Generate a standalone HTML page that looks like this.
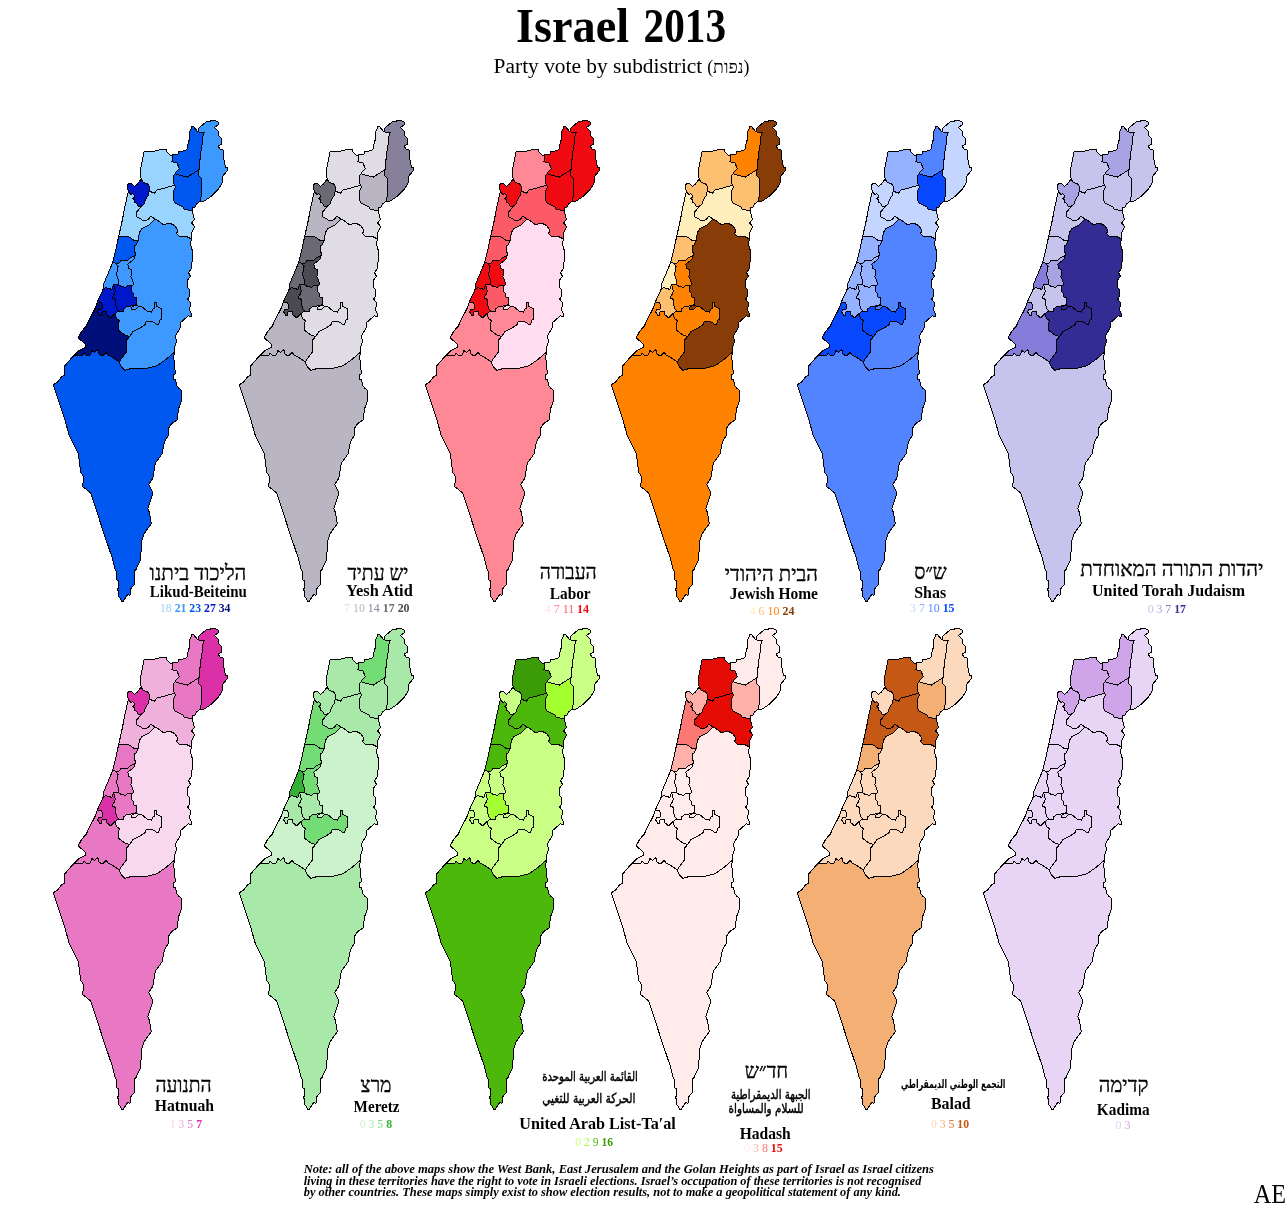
<!DOCTYPE html>
<html><head><meta charset="utf-8"><title>Israel 2013</title>
<style>
html,body{margin:0;padding:0;background:#fff;}
body{width:1288px;height:1205px;position:relative;overflow:hidden;}
svg{position:absolute;left:0;top:0;}
svg .map polygon{stroke:#000;stroke-width:1;stroke-linejoin:bevel;shape-rendering:crispEdges;}
text{font-family:"Liberation Serif","DejaVu Sans",serif;fill:#000;}
.ti{font-size:48px;font-weight:bold;}
.su{font-size:20px;}
.suh{font-size:18px;}
.he{font-size:21px;stroke:#000;stroke-width:0.35px;}
.en{font-size:16px;font-weight:bold;}
.lg{font-size:12px;font-weight:bold;}
.ar{font-family:"DejaVu Sans",sans-serif;font-size:13.7px;stroke:#000;stroke-width:0.45px;}
.arb{font-family:"DejaVu Sans",sans-serif;font-size:12px;font-weight:bold;}
.ft{font-size:12px;font-weight:bold;font-style:italic;}
.ae{font-size:28px;}
</style></head><body>
<svg width="1288" height="1205" viewBox="0 0 1288 1205">
<g class="map" transform="translate(0,0)">
<polygon fill="#3d99ff" points="154.8,219 149.8,224.4 141.5,228.9 139.4,232.7 138.2,240.5 136.5,244.7 134.4,245.9 134.3,251 135.4,253.3 135,255.7 133.9,259.1 131,261.6 127.7,264.1 128.9,268.3 131.4,269.9 131,276.6 132.7,280.7 133.5,284.9 131.8,285.7 131.8,291.5 133.9,294 133.9,297.3 136.4,297.7 136,304.8 138.5,306.4 141.4,306.4 147.2,311 151.7,312.2 152.6,309.3 154.6,308.1 154.2,303.1 156.3,302.3 156.7,306.4 161.3,308.9 161.7,318.9 159.6,320.5 158.8,324.3 156.7,324.3 153,321.8 146.3,321.4 145.1,324.7 140.5,327.6 132.7,331.7 131.4,333.8 129.8,336.3 126.7,340 126.7,351.5 119.2,361.8 121.2,366.5 124.9,370.5 130.7,368.6 147.3,368.2 157.3,365.7 166.4,359 174.1,352.4 174.7,346.6 176.4,342 175.6,335.5 180.2,328 181,322.2 188.5,315.6 191.4,317.2 191.4,314.3 189.7,309.8 190.5,302.7 187.6,299 189.7,296.5 189.7,289.8 187.6,287.3 187.6,279.9 190.5,276.6 188.5,272.4 191,269.1 192.2,260.8 192.4,255 192.1,249.7 190.5,244.7 191.3,238.9 186.3,236.4 179.7,236.8 176.8,233.5 177.6,229.8 174.7,225.6 170.5,223.5 163.1,224.4 158.1,220.6"/>
<polygon fill="#0058f0" points="73.6,355.7 82.8,355.3 84,352.8 86.1,355.3 89.8,355.3 91.9,350.7 94.8,352.4 97.7,349.5 99.4,354.9 103.5,355.3 106,352.4 108.1,354.9 113.9,358.2 119.2,361.8 121.2,366.5 124.9,370.5 130.7,368.6 147.3,368.2 157.3,365.7 166.4,359 174.1,352.4 173.9,358.2 174.7,368.2 175.6,373.2 173.5,375.2 173.5,380.2 175.6,379 176.4,384.8 178.9,388.5 181,389.8 181.8,395.6 181.4,401.4 178.5,408.8 177.8,415 177.6,419.6 171.4,423.8 168.6,428 168.6,434.9 164.5,441.5 162,454 155.4,463.1 152.9,478 148.7,484.7 152,491.3 152,496.3 147.9,508.7 149.6,512.9 151.2,523.7 143.7,534.4 141.3,542.7 140.8,559 135.8,570 134.6,570.4 134.6,584.4 131.3,588.1 130.6,588.9 130.6,594.4 129.6,595.3 127.8,594.4 124.4,599.3 123.6,601.3 121.6,601.3 120.4,598.3 118.6,596.3 118.6,590.4 117.5,590.4 117.4,588.9 118.4,587.9 118.4,580.9 116.6,579.4 116.4,571.8 115.4,570.4 111.9,557 104.8,536.1 90.7,493 82.4,486.3 84,477.2 80.7,472.2 78.2,453.1 69.1,434.9 64.9,420 53.3,384.7 57.4,382.2 61.2,377.3 64.9,374.8 64.5,366.1"/>
<polygon fill="#3d99ff" points="198.1,128.7 206.4,121.6 214.7,120.4 218.4,122.4 218,124.9 214.7,127.4 218.4,131.6 218.8,135.7 221.7,138.6 221.7,144 218.4,146.1 219.7,149 223,149.4 223.8,159 225.5,167.3 227.5,167.7 227.5,170.6 223,175.6 222.6,182.2 218,189.7 211.4,196.3 203.9,201.3 199.8,201.7 201.8,194.6 201.8,178.9 198.1,175.1 199.1,169.5 200.6,153.2 202.7,141.5 203.1,134.1 204.3,132 198.9,132"/>
<polygon fill="#0058f0" points="198.9,132 197.3,131.2 193.1,126.2 191.9,126.6 189.4,132.4 189.8,138.2 188.1,143.2 187.7,148.2 185.2,150.7 179,151.5 178.2,154 172.4,154.8 172.8,159.8 171.5,161.9 176.5,162.3 179.4,168.5 175.3,172.7 175.3,173.9 187.3,177.2 199.1,169.5 200.6,153.2 202.7,141.5 203.1,134.1 204.3,132"/>
<polygon fill="#0058f0" points="175.3,173.9 187.3,177.2 199.1,169.5 198.1,175.1 201.8,178.9 201.8,194.6 199.8,201.7 196.4,203.8 195.2,207.1 192.7,207.9 192.3,211 183.8,209 183,206.9 175.1,203.2 173,198.2 173,191.6 175.1,187.8 175,185.2 173.6,183.9 173.2,175.6"/>
<polygon fill="#99d4ff" points="172.4,154.8 170.3,155.6 167,151.9 166.6,149 162.4,149 154.9,151.1 150,151.1 144.1,151.1 142.9,158.1 140.8,168.1 140.7,172 141.1,179.1 143.2,182.4 147.7,184.1 149,185.8 149.4,190.7 151.5,192 154.4,193.2 157.3,189.5 163.9,188.7 166.4,187.4 175,185.2 173.6,183.9 173.2,175.6 175.3,173.9 175.3,172.7 179.4,168.5 176.5,162.3 171.5,161.9 172.8,159.8"/>
<polygon fill="#0018cc" points="128.2,192 127.4,185.4 129,183.3 131.5,183.3 134.4,186.2 136.9,184.5 141.1,179.1 143.2,182.4 147.7,184.1 149,185.8 149.4,190.7 148.1,195.7 145.2,199.9 144.8,203.2 140.7,206.9 138.5,206.8 137.2,203.9 134,202 134.4,199.5 132.7,198.5 135,197.2 134.4,195.1 132.6,193.4 131.2,195 129,192.5"/>
<polygon fill="#99d4ff" points="149.4,190.7 151.5,192 154.4,193.2 157.3,189.5 163.9,188.7 166.4,187.4 175,185.2 175.1,187.8 173,191.6 173,198.2 175.1,203.2 183,206.9 183.8,209 192.3,211 193.8,217.7 194.6,219 191.7,223.1 194.6,226.4 191.7,233.1 191.3,238.9 186.3,236.4 179.7,236.8 176.8,233.5 177.6,229.8 174.7,225.6 170.5,223.5 163.1,224.4 158.1,220.6 154.8,219 151,216.1 147.7,219.8 143.6,221 140.7,219 136.9,216.9 136.5,212.3 140.7,206.9 144.8,203.2 145.2,199.9 148.1,195.7"/>
<polygon fill="#99d4ff" points="128.2,192 129,192.5 131.2,195 132.6,193.4 134.4,195.1 135,197.2 132.7,198.5 134.4,199.5 134,202 137.2,203.9 138.5,206.8 140.7,206.9 136.5,212.3 136.9,216.9 140.7,219 143.6,221 147.7,219.8 151,216.1 154.8,219 149.8,224.4 141.5,228.9 139.4,232.7 138.2,240.5 134.9,241 129,236.8 121.6,236.8 118.7,236.4 122.4,219.8 124.9,206.5"/>
<polygon fill="#0058f0" points="118.7,236.4 121.6,236.8 129,236.8 134.9,241 138.2,240.5 136.5,244.7 134.4,245.9 134.3,251 135.4,253.3 135,255.7 130.6,257.5 128.1,260 120.6,260.4 119.8,262.9 116.1,263.3 112.7,262.4 115.8,249.7"/>
<polygon fill="#3d99ff" points="112.7,262.4 116.1,263.3 118.1,266.6 116.5,274.9 118.1,279 118.1,284.4 113.6,284.6 111.9,289.4 106.5,287.8 103.6,288.2 104,283.2"/>
<polygon fill="#3d99ff" points="116.1,263.3 119.8,262.9 120.6,260.4 128.1,260 130.6,257.5 135,255.7 133.9,259.1 131,261.6 127.7,264.1 128.9,268.3 131.4,269.9 131,276.6 132.7,280.7 133.5,284.9 131.8,285.7 127.7,285.7 125.6,287.3 120.6,286.1 118.1,284.4 118.1,279 116.5,274.9 118.1,266.6"/>
<polygon fill="#0018cc" points="103.6,288.2 106.5,287.8 111.9,289.4 113.6,284.6 115.2,290.7 114.8,293.2 112.7,296.5 112.7,298.1 115.2,299.4 115.2,303.9 116.9,308.9 118.1,309.8 118,311.5 115.2,313.5 110.7,318 106.9,314.7 106.9,311.8 102.4,311.4 101.1,313.1 102,316 99.9,315.6 97.8,312.2 98.2,309.8 102,309.3 102.8,304.8 101.1,302.7 97.4,301.9"/>
<polygon fill="#0018cc" points="113.6,284.6 118.1,284.4 120.6,286.1 125.6,287.3 127.7,285.7 131.8,285.7 131.8,291.5 133.9,294 133.9,297.3 136.4,297.7 136,304.8 133.1,305.6 126.4,306.8 123.5,308.9 123.1,311.8 118,311.5 118.1,309.8 116.9,308.9 115.2,303.9 115.2,299.4 112.7,298.1 112.7,296.5 114.8,293.2 115.2,290.7"/>
<polygon fill="#3d99ff" points="118,311.5 123.1,311.8 123.5,308.9 126.4,306.8 133.1,305.6 136,304.8 131.4,307.5 131.4,309 135.6,309.5 138.5,306.4 141.4,306.4 147.2,311 151.7,312.2 152.6,309.3 154.6,308.1 154.2,303.1 156.3,302.3 156.7,306.4 161.3,308.9 161.7,318.9 159.6,320.5 158.8,324.3 156.7,324.3 153,321.8 146.3,321.4 145.1,324.7 140.5,327.6 132.7,331.7 131.4,333.8 129.8,336.3 125.6,335.5 119,330.5 118.5,324.7 119.4,320.5 116.5,318.9 115.2,313.5"/>
<polygon fill="#000f7a" points="97.4,301.9 101.1,302.7 102.8,304.8 102,309.3 98.2,309.8 97.8,312.2 99.9,315.6 102,316 101.1,313.1 102.4,311.4 106.9,311.8 106.9,314.7 110.7,318 115.2,313.5 116.5,318.9 119.4,320.5 118.5,324.7 119,330.5 125.6,335.5 129.8,336.3 126.7,340 126.7,351.5 119.2,361.8 113.9,358.2 108.1,354.9 106,352.4 103.5,355.3 99.4,354.9 97.7,349.5 94.8,352.4 91.9,350.7 89.8,355.3 86.1,355.3 84,352.8 82.8,355.3 73.6,355.7 79.4,350.3 85.7,347.4 86.1,344.9 78.2,337.8 81.5,331.6 86.5,325.8 89,320 95.7,307.3"/>
<polygon fill="#3d99ff" points="136,304.8 131.4,307.5 131.4,309 135.6,309.5 138.5,306.4"/>
</g>
<g class="map" transform="translate(186,0)">
<polygon fill="#dfdde3" points="154.8,219 149.8,224.4 141.5,228.9 139.4,232.7 138.2,240.5 136.5,244.7 134.4,245.9 134.3,251 135.4,253.3 135,255.7 133.9,259.1 131,261.6 127.7,264.1 128.9,268.3 131.4,269.9 131,276.6 132.7,280.7 133.5,284.9 131.8,285.7 131.8,291.5 133.9,294 133.9,297.3 136.4,297.7 136,304.8 138.5,306.4 141.4,306.4 147.2,311 151.7,312.2 152.6,309.3 154.6,308.1 154.2,303.1 156.3,302.3 156.7,306.4 161.3,308.9 161.7,318.9 159.6,320.5 158.8,324.3 156.7,324.3 153,321.8 146.3,321.4 145.1,324.7 140.5,327.6 132.7,331.7 131.4,333.8 129.8,336.3 126.7,340 126.7,351.5 119.2,361.8 121.2,366.5 124.9,370.5 130.7,368.6 147.3,368.2 157.3,365.7 166.4,359 174.1,352.4 174.7,346.6 176.4,342 175.6,335.5 180.2,328 181,322.2 188.5,315.6 191.4,317.2 191.4,314.3 189.7,309.8 190.5,302.7 187.6,299 189.7,296.5 189.7,289.8 187.6,287.3 187.6,279.9 190.5,276.6 188.5,272.4 191,269.1 192.2,260.8 192.4,255 192.1,249.7 190.5,244.7 191.3,238.9 186.3,236.4 179.7,236.8 176.8,233.5 177.6,229.8 174.7,225.6 170.5,223.5 163.1,224.4 158.1,220.6"/>
<polygon fill="#b9b5c2" points="73.6,355.7 82.8,355.3 84,352.8 86.1,355.3 89.8,355.3 91.9,350.7 94.8,352.4 97.7,349.5 99.4,354.9 103.5,355.3 106,352.4 108.1,354.9 113.9,358.2 119.2,361.8 121.2,366.5 124.9,370.5 130.7,368.6 147.3,368.2 157.3,365.7 166.4,359 174.1,352.4 173.9,358.2 174.7,368.2 175.6,373.2 173.5,375.2 173.5,380.2 175.6,379 176.4,384.8 178.9,388.5 181,389.8 181.8,395.6 181.4,401.4 178.5,408.8 177.8,415 177.6,419.6 171.4,423.8 168.6,428 168.6,434.9 164.5,441.5 162,454 155.4,463.1 152.9,478 148.7,484.7 152,491.3 152,496.3 147.9,508.7 149.6,512.9 151.2,523.7 143.7,534.4 141.3,542.7 140.8,559 135.8,570 134.6,570.4 134.6,584.4 131.3,588.1 130.6,588.9 130.6,594.4 129.6,595.3 127.8,594.4 124.4,599.3 123.6,601.3 121.6,601.3 120.4,598.3 118.6,596.3 118.6,590.4 117.5,590.4 117.4,588.9 118.4,587.9 118.4,580.9 116.6,579.4 116.4,571.8 115.4,570.4 111.9,557 104.8,536.1 90.7,493 82.4,486.3 84,477.2 80.7,472.2 78.2,453.1 69.1,434.9 64.9,420 53.3,384.7 57.4,382.2 61.2,377.3 64.9,374.8 64.5,366.1"/>
<polygon fill="#87809a" points="198.1,128.7 206.4,121.6 214.7,120.4 218.4,122.4 218,124.9 214.7,127.4 218.4,131.6 218.8,135.7 221.7,138.6 221.7,144 218.4,146.1 219.7,149 223,149.4 223.8,159 225.5,167.3 227.5,167.7 227.5,170.6 223,175.6 222.6,182.2 218,189.7 211.4,196.3 203.9,201.3 199.8,201.7 201.8,194.6 201.8,178.9 198.1,175.1 199.1,169.5 200.6,153.2 202.7,141.5 203.1,134.1 204.3,132 198.9,132"/>
<polygon fill="#dfdde3" points="198.9,132 197.3,131.2 193.1,126.2 191.9,126.6 189.4,132.4 189.8,138.2 188.1,143.2 187.7,148.2 185.2,150.7 179,151.5 178.2,154 172.4,154.8 172.8,159.8 171.5,161.9 176.5,162.3 179.4,168.5 175.3,172.7 175.3,173.9 187.3,177.2 199.1,169.5 200.6,153.2 202.7,141.5 203.1,134.1 204.3,132"/>
<polygon fill="#b9b5c2" points="175.3,173.9 187.3,177.2 199.1,169.5 198.1,175.1 201.8,178.9 201.8,194.6 199.8,201.7 196.4,203.8 195.2,207.1 192.7,207.9 192.3,211 183.8,209 183,206.9 175.1,203.2 173,198.2 173,191.6 175.1,187.8 175,185.2 173.6,183.9 173.2,175.6"/>
<polygon fill="#dfdde3" points="172.4,154.8 170.3,155.6 167,151.9 166.6,149 162.4,149 154.9,151.1 150,151.1 144.1,151.1 142.9,158.1 140.8,168.1 140.7,172 141.1,179.1 143.2,182.4 147.7,184.1 149,185.8 149.4,190.7 151.5,192 154.4,193.2 157.3,189.5 163.9,188.7 166.4,187.4 175,185.2 173.6,183.9 173.2,175.6 175.3,173.9 175.3,172.7 179.4,168.5 176.5,162.3 171.5,161.9 172.8,159.8"/>
<polygon fill="#6b6a74" points="128.2,192 127.4,185.4 129,183.3 131.5,183.3 134.4,186.2 136.9,184.5 141.1,179.1 143.2,182.4 147.7,184.1 149,185.8 149.4,190.7 148.1,195.7 145.2,199.9 144.8,203.2 140.7,206.9 138.5,206.8 137.2,203.9 134,202 134.4,199.5 132.7,198.5 135,197.2 134.4,195.1 132.6,193.4 131.2,195 129,192.5"/>
<polygon fill="#dfdde3" points="149.4,190.7 151.5,192 154.4,193.2 157.3,189.5 163.9,188.7 166.4,187.4 175,185.2 175.1,187.8 173,191.6 173,198.2 175.1,203.2 183,206.9 183.8,209 192.3,211 193.8,217.7 194.6,219 191.7,223.1 194.6,226.4 191.7,233.1 191.3,238.9 186.3,236.4 179.7,236.8 176.8,233.5 177.6,229.8 174.7,225.6 170.5,223.5 163.1,224.4 158.1,220.6 154.8,219 151,216.1 147.7,219.8 143.6,221 140.7,219 136.9,216.9 136.5,212.3 140.7,206.9 144.8,203.2 145.2,199.9 148.1,195.7"/>
<polygon fill="#b9b5c2" points="128.2,192 129,192.5 131.2,195 132.6,193.4 134.4,195.1 135,197.2 132.7,198.5 134.4,199.5 134,202 137.2,203.9 138.5,206.8 140.7,206.9 136.5,212.3 136.9,216.9 140.7,219 143.6,221 147.7,219.8 151,216.1 154.8,219 149.8,224.4 141.5,228.9 139.4,232.7 138.2,240.5 134.9,241 129,236.8 121.6,236.8 118.7,236.4 122.4,219.8 124.9,206.5"/>
<polygon fill="#6b6a74" points="118.7,236.4 121.6,236.8 129,236.8 134.9,241 138.2,240.5 136.5,244.7 134.4,245.9 134.3,251 135.4,253.3 135,255.7 130.6,257.5 128.1,260 120.6,260.4 119.8,262.9 116.1,263.3 112.7,262.4 115.8,249.7"/>
<polygon fill="#6b6a74" points="112.7,262.4 116.1,263.3 118.1,266.6 116.5,274.9 118.1,279 118.1,284.4 113.6,284.6 111.9,289.4 106.5,287.8 103.6,288.2 104,283.2"/>
<polygon fill="#4b4a52" points="116.1,263.3 119.8,262.9 120.6,260.4 128.1,260 130.6,257.5 135,255.7 133.9,259.1 131,261.6 127.7,264.1 128.9,268.3 131.4,269.9 131,276.6 132.7,280.7 133.5,284.9 131.8,285.7 127.7,285.7 125.6,287.3 120.6,286.1 118.1,284.4 118.1,279 116.5,274.9 118.1,266.6"/>
<polygon fill="#4b4a52" points="103.6,288.2 106.5,287.8 111.9,289.4 113.6,284.6 115.2,290.7 114.8,293.2 112.7,296.5 112.7,298.1 115.2,299.4 115.2,303.9 116.9,308.9 118.1,309.8 118,311.5 115.2,313.5 110.7,318 106.9,314.7 106.9,311.8 102.4,311.4 101.1,313.1 102,316 99.9,315.6 97.8,312.2 98.2,309.8 102,309.3 102.8,304.8 101.1,302.7 97.4,301.9"/>
<polygon fill="#6b6a74" points="113.6,284.6 118.1,284.4 120.6,286.1 125.6,287.3 127.7,285.7 131.8,285.7 131.8,291.5 133.9,294 133.9,297.3 136.4,297.7 136,304.8 133.1,305.6 126.4,306.8 123.5,308.9 123.1,311.8 118,311.5 118.1,309.8 116.9,308.9 115.2,303.9 115.2,299.4 112.7,298.1 112.7,296.5 114.8,293.2 115.2,290.7"/>
<polygon fill="#dfdde3" points="118,311.5 123.1,311.8 123.5,308.9 126.4,306.8 133.1,305.6 136,304.8 131.4,307.5 131.4,309 135.6,309.5 138.5,306.4 141.4,306.4 147.2,311 151.7,312.2 152.6,309.3 154.6,308.1 154.2,303.1 156.3,302.3 156.7,306.4 161.3,308.9 161.7,318.9 159.6,320.5 158.8,324.3 156.7,324.3 153,321.8 146.3,321.4 145.1,324.7 140.5,327.6 132.7,331.7 131.4,333.8 129.8,336.3 125.6,335.5 119,330.5 118.5,324.7 119.4,320.5 116.5,318.9 115.2,313.5"/>
<polygon fill="#b9b5c2" points="97.4,301.9 101.1,302.7 102.8,304.8 102,309.3 98.2,309.8 97.8,312.2 99.9,315.6 102,316 101.1,313.1 102.4,311.4 106.9,311.8 106.9,314.7 110.7,318 115.2,313.5 116.5,318.9 119.4,320.5 118.5,324.7 119,330.5 125.6,335.5 129.8,336.3 126.7,340 126.7,351.5 119.2,361.8 113.9,358.2 108.1,354.9 106,352.4 103.5,355.3 99.4,354.9 97.7,349.5 94.8,352.4 91.9,350.7 89.8,355.3 86.1,355.3 84,352.8 82.8,355.3 73.6,355.7 79.4,350.3 85.7,347.4 86.1,344.9 78.2,337.8 81.5,331.6 86.5,325.8 89,320 95.7,307.3"/>
<polygon fill="#dfdde3" points="136,304.8 131.4,307.5 131.4,309 135.6,309.5 138.5,306.4"/>
</g>
<g class="map" transform="translate(372,0)">
<polygon fill="#ffdcf0" points="154.8,219 149.8,224.4 141.5,228.9 139.4,232.7 138.2,240.5 136.5,244.7 134.4,245.9 134.3,251 135.4,253.3 135,255.7 133.9,259.1 131,261.6 127.7,264.1 128.9,268.3 131.4,269.9 131,276.6 132.7,280.7 133.5,284.9 131.8,285.7 131.8,291.5 133.9,294 133.9,297.3 136.4,297.7 136,304.8 138.5,306.4 141.4,306.4 147.2,311 151.7,312.2 152.6,309.3 154.6,308.1 154.2,303.1 156.3,302.3 156.7,306.4 161.3,308.9 161.7,318.9 159.6,320.5 158.8,324.3 156.7,324.3 153,321.8 146.3,321.4 145.1,324.7 140.5,327.6 132.7,331.7 131.4,333.8 129.8,336.3 126.7,340 126.7,351.5 119.2,361.8 121.2,366.5 124.9,370.5 130.7,368.6 147.3,368.2 157.3,365.7 166.4,359 174.1,352.4 174.7,346.6 176.4,342 175.6,335.5 180.2,328 181,322.2 188.5,315.6 191.4,317.2 191.4,314.3 189.7,309.8 190.5,302.7 187.6,299 189.7,296.5 189.7,289.8 187.6,287.3 187.6,279.9 190.5,276.6 188.5,272.4 191,269.1 192.2,260.8 192.4,255 192.1,249.7 190.5,244.7 191.3,238.9 186.3,236.4 179.7,236.8 176.8,233.5 177.6,229.8 174.7,225.6 170.5,223.5 163.1,224.4 158.1,220.6"/>
<polygon fill="#ff8896" points="73.6,355.7 82.8,355.3 84,352.8 86.1,355.3 89.8,355.3 91.9,350.7 94.8,352.4 97.7,349.5 99.4,354.9 103.5,355.3 106,352.4 108.1,354.9 113.9,358.2 119.2,361.8 121.2,366.5 124.9,370.5 130.7,368.6 147.3,368.2 157.3,365.7 166.4,359 174.1,352.4 173.9,358.2 174.7,368.2 175.6,373.2 173.5,375.2 173.5,380.2 175.6,379 176.4,384.8 178.9,388.5 181,389.8 181.8,395.6 181.4,401.4 178.5,408.8 177.8,415 177.6,419.6 171.4,423.8 168.6,428 168.6,434.9 164.5,441.5 162,454 155.4,463.1 152.9,478 148.7,484.7 152,491.3 152,496.3 147.9,508.7 149.6,512.9 151.2,523.7 143.7,534.4 141.3,542.7 140.8,559 135.8,570 134.6,570.4 134.6,584.4 131.3,588.1 130.6,588.9 130.6,594.4 129.6,595.3 127.8,594.4 124.4,599.3 123.6,601.3 121.6,601.3 120.4,598.3 118.6,596.3 118.6,590.4 117.5,590.4 117.4,588.9 118.4,587.9 118.4,580.9 116.6,579.4 116.4,571.8 115.4,570.4 111.9,557 104.8,536.1 90.7,493 82.4,486.3 84,477.2 80.7,472.2 78.2,453.1 69.1,434.9 64.9,420 53.3,384.7 57.4,382.2 61.2,377.3 64.9,374.8 64.5,366.1"/>
<polygon fill="#f00a12" points="198.1,128.7 206.4,121.6 214.7,120.4 218.4,122.4 218,124.9 214.7,127.4 218.4,131.6 218.8,135.7 221.7,138.6 221.7,144 218.4,146.1 219.7,149 223,149.4 223.8,159 225.5,167.3 227.5,167.7 227.5,170.6 223,175.6 222.6,182.2 218,189.7 211.4,196.3 203.9,201.3 199.8,201.7 201.8,194.6 201.8,178.9 198.1,175.1 199.1,169.5 200.6,153.2 202.7,141.5 203.1,134.1 204.3,132 198.9,132"/>
<polygon fill="#f00a12" points="198.9,132 197.3,131.2 193.1,126.2 191.9,126.6 189.4,132.4 189.8,138.2 188.1,143.2 187.7,148.2 185.2,150.7 179,151.5 178.2,154 172.4,154.8 172.8,159.8 171.5,161.9 176.5,162.3 179.4,168.5 175.3,172.7 175.3,173.9 187.3,177.2 199.1,169.5 200.6,153.2 202.7,141.5 203.1,134.1 204.3,132"/>
<polygon fill="#f00a12" points="175.3,173.9 187.3,177.2 199.1,169.5 198.1,175.1 201.8,178.9 201.8,194.6 199.8,201.7 196.4,203.8 195.2,207.1 192.7,207.9 192.3,211 183.8,209 183,206.9 175.1,203.2 173,198.2 173,191.6 175.1,187.8 175,185.2 173.6,183.9 173.2,175.6"/>
<polygon fill="#ff8896" points="172.4,154.8 170.3,155.6 167,151.9 166.6,149 162.4,149 154.9,151.1 150,151.1 144.1,151.1 142.9,158.1 140.8,168.1 140.7,172 141.1,179.1 143.2,182.4 147.7,184.1 149,185.8 149.4,190.7 151.5,192 154.4,193.2 157.3,189.5 163.9,188.7 166.4,187.4 175,185.2 173.6,183.9 173.2,175.6 175.3,173.9 175.3,172.7 179.4,168.5 176.5,162.3 171.5,161.9 172.8,159.8"/>
<polygon fill="#f00a12" points="128.2,192 127.4,185.4 129,183.3 131.5,183.3 134.4,186.2 136.9,184.5 141.1,179.1 143.2,182.4 147.7,184.1 149,185.8 149.4,190.7 148.1,195.7 145.2,199.9 144.8,203.2 140.7,206.9 138.5,206.8 137.2,203.9 134,202 134.4,199.5 132.7,198.5 135,197.2 134.4,195.1 132.6,193.4 131.2,195 129,192.5"/>
<polygon fill="#fc5a66" points="149.4,190.7 151.5,192 154.4,193.2 157.3,189.5 163.9,188.7 166.4,187.4 175,185.2 175.1,187.8 173,191.6 173,198.2 175.1,203.2 183,206.9 183.8,209 192.3,211 193.8,217.7 194.6,219 191.7,223.1 194.6,226.4 191.7,233.1 191.3,238.9 186.3,236.4 179.7,236.8 176.8,233.5 177.6,229.8 174.7,225.6 170.5,223.5 163.1,224.4 158.1,220.6 154.8,219 151,216.1 147.7,219.8 143.6,221 140.7,219 136.9,216.9 136.5,212.3 140.7,206.9 144.8,203.2 145.2,199.9 148.1,195.7"/>
<polygon fill="#fc5a66" points="128.2,192 129,192.5 131.2,195 132.6,193.4 134.4,195.1 135,197.2 132.7,198.5 134.4,199.5 134,202 137.2,203.9 138.5,206.8 140.7,206.9 136.5,212.3 136.9,216.9 140.7,219 143.6,221 147.7,219.8 151,216.1 154.8,219 149.8,224.4 141.5,228.9 139.4,232.7 138.2,240.5 134.9,241 129,236.8 121.6,236.8 118.7,236.4 122.4,219.8 124.9,206.5"/>
<polygon fill="#fc5a66" points="118.7,236.4 121.6,236.8 129,236.8 134.9,241 138.2,240.5 136.5,244.7 134.4,245.9 134.3,251 135.4,253.3 135,255.7 130.6,257.5 128.1,260 120.6,260.4 119.8,262.9 116.1,263.3 112.7,262.4 115.8,249.7"/>
<polygon fill="#f00a12" points="112.7,262.4 116.1,263.3 118.1,266.6 116.5,274.9 118.1,279 118.1,284.4 113.6,284.6 111.9,289.4 106.5,287.8 103.6,288.2 104,283.2"/>
<polygon fill="#f00a12" points="116.1,263.3 119.8,262.9 120.6,260.4 128.1,260 130.6,257.5 135,255.7 133.9,259.1 131,261.6 127.7,264.1 128.9,268.3 131.4,269.9 131,276.6 132.7,280.7 133.5,284.9 131.8,285.7 127.7,285.7 125.6,287.3 120.6,286.1 118.1,284.4 118.1,279 116.5,274.9 118.1,266.6"/>
<polygon fill="#f00a12" points="103.6,288.2 106.5,287.8 111.9,289.4 113.6,284.6 115.2,290.7 114.8,293.2 112.7,296.5 112.7,298.1 115.2,299.4 115.2,303.9 116.9,308.9 118.1,309.8 118,311.5 115.2,313.5 110.7,318 106.9,314.7 106.9,311.8 102.4,311.4 101.1,313.1 102,316 99.9,315.6 97.8,312.2 98.2,309.8 102,309.3 102.8,304.8 101.1,302.7 97.4,301.9"/>
<polygon fill="#fc5a66" points="113.6,284.6 118.1,284.4 120.6,286.1 125.6,287.3 127.7,285.7 131.8,285.7 131.8,291.5 133.9,294 133.9,297.3 136.4,297.7 136,304.8 133.1,305.6 126.4,306.8 123.5,308.9 123.1,311.8 118,311.5 118.1,309.8 116.9,308.9 115.2,303.9 115.2,299.4 112.7,298.1 112.7,296.5 114.8,293.2 115.2,290.7"/>
<polygon fill="#ff8896" points="118,311.5 123.1,311.8 123.5,308.9 126.4,306.8 133.1,305.6 136,304.8 131.4,307.5 131.4,309 135.6,309.5 138.5,306.4 141.4,306.4 147.2,311 151.7,312.2 152.6,309.3 154.6,308.1 154.2,303.1 156.3,302.3 156.7,306.4 161.3,308.9 161.7,318.9 159.6,320.5 158.8,324.3 156.7,324.3 153,321.8 146.3,321.4 145.1,324.7 140.5,327.6 132.7,331.7 131.4,333.8 129.8,336.3 125.6,335.5 119,330.5 118.5,324.7 119.4,320.5 116.5,318.9 115.2,313.5"/>
<polygon fill="#ff8896" points="97.4,301.9 101.1,302.7 102.8,304.8 102,309.3 98.2,309.8 97.8,312.2 99.9,315.6 102,316 101.1,313.1 102.4,311.4 106.9,311.8 106.9,314.7 110.7,318 115.2,313.5 116.5,318.9 119.4,320.5 118.5,324.7 119,330.5 125.6,335.5 129.8,336.3 126.7,340 126.7,351.5 119.2,361.8 113.9,358.2 108.1,354.9 106,352.4 103.5,355.3 99.4,354.9 97.7,349.5 94.8,352.4 91.9,350.7 89.8,355.3 86.1,355.3 84,352.8 82.8,355.3 73.6,355.7 79.4,350.3 85.7,347.4 86.1,344.9 78.2,337.8 81.5,331.6 86.5,325.8 89,320 95.7,307.3"/>
<polygon fill="#ffdcf0" points="136,304.8 131.4,307.5 131.4,309 135.6,309.5 138.5,306.4"/>
</g>
<g class="map" transform="translate(558,0)">
<polygon fill="#883c08" points="154.8,219 149.8,224.4 141.5,228.9 139.4,232.7 138.2,240.5 136.5,244.7 134.4,245.9 134.3,251 135.4,253.3 135,255.7 133.9,259.1 131,261.6 127.7,264.1 128.9,268.3 131.4,269.9 131,276.6 132.7,280.7 133.5,284.9 131.8,285.7 131.8,291.5 133.9,294 133.9,297.3 136.4,297.7 136,304.8 138.5,306.4 141.4,306.4 147.2,311 151.7,312.2 152.6,309.3 154.6,308.1 154.2,303.1 156.3,302.3 156.7,306.4 161.3,308.9 161.7,318.9 159.6,320.5 158.8,324.3 156.7,324.3 153,321.8 146.3,321.4 145.1,324.7 140.5,327.6 132.7,331.7 131.4,333.8 129.8,336.3 126.7,340 126.7,351.5 119.2,361.8 121.2,366.5 124.9,370.5 130.7,368.6 147.3,368.2 157.3,365.7 166.4,359 174.1,352.4 174.7,346.6 176.4,342 175.6,335.5 180.2,328 181,322.2 188.5,315.6 191.4,317.2 191.4,314.3 189.7,309.8 190.5,302.7 187.6,299 189.7,296.5 189.7,289.8 187.6,287.3 187.6,279.9 190.5,276.6 188.5,272.4 191,269.1 192.2,260.8 192.4,255 192.1,249.7 190.5,244.7 191.3,238.9 186.3,236.4 179.7,236.8 176.8,233.5 177.6,229.8 174.7,225.6 170.5,223.5 163.1,224.4 158.1,220.6"/>
<polygon fill="#ff8200" points="73.6,355.7 82.8,355.3 84,352.8 86.1,355.3 89.8,355.3 91.9,350.7 94.8,352.4 97.7,349.5 99.4,354.9 103.5,355.3 106,352.4 108.1,354.9 113.9,358.2 119.2,361.8 121.2,366.5 124.9,370.5 130.7,368.6 147.3,368.2 157.3,365.7 166.4,359 174.1,352.4 173.9,358.2 174.7,368.2 175.6,373.2 173.5,375.2 173.5,380.2 175.6,379 176.4,384.8 178.9,388.5 181,389.8 181.8,395.6 181.4,401.4 178.5,408.8 177.8,415 177.6,419.6 171.4,423.8 168.6,428 168.6,434.9 164.5,441.5 162,454 155.4,463.1 152.9,478 148.7,484.7 152,491.3 152,496.3 147.9,508.7 149.6,512.9 151.2,523.7 143.7,534.4 141.3,542.7 140.8,559 135.8,570 134.6,570.4 134.6,584.4 131.3,588.1 130.6,588.9 130.6,594.4 129.6,595.3 127.8,594.4 124.4,599.3 123.6,601.3 121.6,601.3 120.4,598.3 118.6,596.3 118.6,590.4 117.5,590.4 117.4,588.9 118.4,587.9 118.4,580.9 116.6,579.4 116.4,571.8 115.4,570.4 111.9,557 104.8,536.1 90.7,493 82.4,486.3 84,477.2 80.7,472.2 78.2,453.1 69.1,434.9 64.9,420 53.3,384.7 57.4,382.2 61.2,377.3 64.9,374.8 64.5,366.1"/>
<polygon fill="#883c08" points="198.1,128.7 206.4,121.6 214.7,120.4 218.4,122.4 218,124.9 214.7,127.4 218.4,131.6 218.8,135.7 221.7,138.6 221.7,144 218.4,146.1 219.7,149 223,149.4 223.8,159 225.5,167.3 227.5,167.7 227.5,170.6 223,175.6 222.6,182.2 218,189.7 211.4,196.3 203.9,201.3 199.8,201.7 201.8,194.6 201.8,178.9 198.1,175.1 199.1,169.5 200.6,153.2 202.7,141.5 203.1,134.1 204.3,132 198.9,132"/>
<polygon fill="#ff8200" points="198.9,132 197.3,131.2 193.1,126.2 191.9,126.6 189.4,132.4 189.8,138.2 188.1,143.2 187.7,148.2 185.2,150.7 179,151.5 178.2,154 172.4,154.8 172.8,159.8 171.5,161.9 176.5,162.3 179.4,168.5 175.3,172.7 175.3,173.9 187.3,177.2 199.1,169.5 200.6,153.2 202.7,141.5 203.1,134.1 204.3,132"/>
<polygon fill="#fdc070" points="175.3,173.9 187.3,177.2 199.1,169.5 198.1,175.1 201.8,178.9 201.8,194.6 199.8,201.7 196.4,203.8 195.2,207.1 192.7,207.9 192.3,211 183.8,209 183,206.9 175.1,203.2 173,198.2 173,191.6 175.1,187.8 175,185.2 173.6,183.9 173.2,175.6"/>
<polygon fill="#fdc070" points="172.4,154.8 170.3,155.6 167,151.9 166.6,149 162.4,149 154.9,151.1 150,151.1 144.1,151.1 142.9,158.1 140.8,168.1 140.7,172 141.1,179.1 143.2,182.4 147.7,184.1 149,185.8 149.4,190.7 151.5,192 154.4,193.2 157.3,189.5 163.9,188.7 166.4,187.4 175,185.2 173.6,183.9 173.2,175.6 175.3,173.9 175.3,172.7 179.4,168.5 176.5,162.3 171.5,161.9 172.8,159.8"/>
<polygon fill="#fdc070" points="128.2,192 127.4,185.4 129,183.3 131.5,183.3 134.4,186.2 136.9,184.5 141.1,179.1 143.2,182.4 147.7,184.1 149,185.8 149.4,190.7 148.1,195.7 145.2,199.9 144.8,203.2 140.7,206.9 138.5,206.8 137.2,203.9 134,202 134.4,199.5 132.7,198.5 135,197.2 134.4,195.1 132.6,193.4 131.2,195 129,192.5"/>
<polygon fill="#ffeebb" points="149.4,190.7 151.5,192 154.4,193.2 157.3,189.5 163.9,188.7 166.4,187.4 175,185.2 175.1,187.8 173,191.6 173,198.2 175.1,203.2 183,206.9 183.8,209 192.3,211 193.8,217.7 194.6,219 191.7,223.1 194.6,226.4 191.7,233.1 191.3,238.9 186.3,236.4 179.7,236.8 176.8,233.5 177.6,229.8 174.7,225.6 170.5,223.5 163.1,224.4 158.1,220.6 154.8,219 151,216.1 147.7,219.8 143.6,221 140.7,219 136.9,216.9 136.5,212.3 140.7,206.9 144.8,203.2 145.2,199.9 148.1,195.7"/>
<polygon fill="#ffeebb" points="128.2,192 129,192.5 131.2,195 132.6,193.4 134.4,195.1 135,197.2 132.7,198.5 134.4,199.5 134,202 137.2,203.9 138.5,206.8 140.7,206.9 136.5,212.3 136.9,216.9 140.7,219 143.6,221 147.7,219.8 151,216.1 154.8,219 149.8,224.4 141.5,228.9 139.4,232.7 138.2,240.5 134.9,241 129,236.8 121.6,236.8 118.7,236.4 122.4,219.8 124.9,206.5"/>
<polygon fill="#fdc070" points="118.7,236.4 121.6,236.8 129,236.8 134.9,241 138.2,240.5 136.5,244.7 134.4,245.9 134.3,251 135.4,253.3 135,255.7 130.6,257.5 128.1,260 120.6,260.4 119.8,262.9 116.1,263.3 112.7,262.4 115.8,249.7"/>
<polygon fill="#ffeebb" points="112.7,262.4 116.1,263.3 118.1,266.6 116.5,274.9 118.1,279 118.1,284.4 113.6,284.6 111.9,289.4 106.5,287.8 103.6,288.2 104,283.2"/>
<polygon fill="#ff8200" points="116.1,263.3 119.8,262.9 120.6,260.4 128.1,260 130.6,257.5 135,255.7 133.9,259.1 131,261.6 127.7,264.1 128.9,268.3 131.4,269.9 131,276.6 132.7,280.7 133.5,284.9 131.8,285.7 127.7,285.7 125.6,287.3 120.6,286.1 118.1,284.4 118.1,279 116.5,274.9 118.1,266.6"/>
<polygon fill="#fdc070" points="103.6,288.2 106.5,287.8 111.9,289.4 113.6,284.6 115.2,290.7 114.8,293.2 112.7,296.5 112.7,298.1 115.2,299.4 115.2,303.9 116.9,308.9 118.1,309.8 118,311.5 115.2,313.5 110.7,318 106.9,314.7 106.9,311.8 102.4,311.4 101.1,313.1 102,316 99.9,315.6 97.8,312.2 98.2,309.8 102,309.3 102.8,304.8 101.1,302.7 97.4,301.9"/>
<polygon fill="#ff8200" points="113.6,284.6 118.1,284.4 120.6,286.1 125.6,287.3 127.7,285.7 131.8,285.7 131.8,291.5 133.9,294 133.9,297.3 136.4,297.7 136,304.8 133.1,305.6 126.4,306.8 123.5,308.9 123.1,311.8 118,311.5 118.1,309.8 116.9,308.9 115.2,303.9 115.2,299.4 112.7,298.1 112.7,296.5 114.8,293.2 115.2,290.7"/>
<polygon fill="#ff8200" points="118,311.5 123.1,311.8 123.5,308.9 126.4,306.8 133.1,305.6 136,304.8 131.4,307.5 131.4,309 135.6,309.5 138.5,306.4 141.4,306.4 147.2,311 151.7,312.2 152.6,309.3 154.6,308.1 154.2,303.1 156.3,302.3 156.7,306.4 161.3,308.9 161.7,318.9 159.6,320.5 158.8,324.3 156.7,324.3 153,321.8 146.3,321.4 145.1,324.7 140.5,327.6 132.7,331.7 131.4,333.8 129.8,336.3 125.6,335.5 119,330.5 118.5,324.7 119.4,320.5 116.5,318.9 115.2,313.5"/>
<polygon fill="#ff8200" points="97.4,301.9 101.1,302.7 102.8,304.8 102,309.3 98.2,309.8 97.8,312.2 99.9,315.6 102,316 101.1,313.1 102.4,311.4 106.9,311.8 106.9,314.7 110.7,318 115.2,313.5 116.5,318.9 119.4,320.5 118.5,324.7 119,330.5 125.6,335.5 129.8,336.3 126.7,340 126.7,351.5 119.2,361.8 113.9,358.2 108.1,354.9 106,352.4 103.5,355.3 99.4,354.9 97.7,349.5 94.8,352.4 91.9,350.7 89.8,355.3 86.1,355.3 84,352.8 82.8,355.3 73.6,355.7 79.4,350.3 85.7,347.4 86.1,344.9 78.2,337.8 81.5,331.6 86.5,325.8 89,320 95.7,307.3"/>
<polygon fill="#883c08" points="136,304.8 131.4,307.5 131.4,309 135.6,309.5 138.5,306.4"/>
</g>
<g class="map" transform="translate(744,0)">
<polygon fill="#5284ff" points="154.8,219 149.8,224.4 141.5,228.9 139.4,232.7 138.2,240.5 136.5,244.7 134.4,245.9 134.3,251 135.4,253.3 135,255.7 133.9,259.1 131,261.6 127.7,264.1 128.9,268.3 131.4,269.9 131,276.6 132.7,280.7 133.5,284.9 131.8,285.7 131.8,291.5 133.9,294 133.9,297.3 136.4,297.7 136,304.8 138.5,306.4 141.4,306.4 147.2,311 151.7,312.2 152.6,309.3 154.6,308.1 154.2,303.1 156.3,302.3 156.7,306.4 161.3,308.9 161.7,318.9 159.6,320.5 158.8,324.3 156.7,324.3 153,321.8 146.3,321.4 145.1,324.7 140.5,327.6 132.7,331.7 131.4,333.8 129.8,336.3 126.7,340 126.7,351.5 119.2,361.8 121.2,366.5 124.9,370.5 130.7,368.6 147.3,368.2 157.3,365.7 166.4,359 174.1,352.4 174.7,346.6 176.4,342 175.6,335.5 180.2,328 181,322.2 188.5,315.6 191.4,317.2 191.4,314.3 189.7,309.8 190.5,302.7 187.6,299 189.7,296.5 189.7,289.8 187.6,287.3 187.6,279.9 190.5,276.6 188.5,272.4 191,269.1 192.2,260.8 192.4,255 192.1,249.7 190.5,244.7 191.3,238.9 186.3,236.4 179.7,236.8 176.8,233.5 177.6,229.8 174.7,225.6 170.5,223.5 163.1,224.4 158.1,220.6"/>
<polygon fill="#5284ff" points="73.6,355.7 82.8,355.3 84,352.8 86.1,355.3 89.8,355.3 91.9,350.7 94.8,352.4 97.7,349.5 99.4,354.9 103.5,355.3 106,352.4 108.1,354.9 113.9,358.2 119.2,361.8 121.2,366.5 124.9,370.5 130.7,368.6 147.3,368.2 157.3,365.7 166.4,359 174.1,352.4 173.9,358.2 174.7,368.2 175.6,373.2 173.5,375.2 173.5,380.2 175.6,379 176.4,384.8 178.9,388.5 181,389.8 181.8,395.6 181.4,401.4 178.5,408.8 177.8,415 177.6,419.6 171.4,423.8 168.6,428 168.6,434.9 164.5,441.5 162,454 155.4,463.1 152.9,478 148.7,484.7 152,491.3 152,496.3 147.9,508.7 149.6,512.9 151.2,523.7 143.7,534.4 141.3,542.7 140.8,559 135.8,570 134.6,570.4 134.6,584.4 131.3,588.1 130.6,588.9 130.6,594.4 129.6,595.3 127.8,594.4 124.4,599.3 123.6,601.3 121.6,601.3 120.4,598.3 118.6,596.3 118.6,590.4 117.5,590.4 117.4,588.9 118.4,587.9 118.4,580.9 116.6,579.4 116.4,571.8 115.4,570.4 111.9,557 104.8,536.1 90.7,493 82.4,486.3 84,477.2 80.7,472.2 78.2,453.1 69.1,434.9 64.9,420 53.3,384.7 57.4,382.2 61.2,377.3 64.9,374.8 64.5,366.1"/>
<polygon fill="#c4d6ff" points="198.1,128.7 206.4,121.6 214.7,120.4 218.4,122.4 218,124.9 214.7,127.4 218.4,131.6 218.8,135.7 221.7,138.6 221.7,144 218.4,146.1 219.7,149 223,149.4 223.8,159 225.5,167.3 227.5,167.7 227.5,170.6 223,175.6 222.6,182.2 218,189.7 211.4,196.3 203.9,201.3 199.8,201.7 201.8,194.6 201.8,178.9 198.1,175.1 199.1,169.5 200.6,153.2 202.7,141.5 203.1,134.1 204.3,132 198.9,132"/>
<polygon fill="#5284ff" points="198.9,132 197.3,131.2 193.1,126.2 191.9,126.6 189.4,132.4 189.8,138.2 188.1,143.2 187.7,148.2 185.2,150.7 179,151.5 178.2,154 172.4,154.8 172.8,159.8 171.5,161.9 176.5,162.3 179.4,168.5 175.3,172.7 175.3,173.9 187.3,177.2 199.1,169.5 200.6,153.2 202.7,141.5 203.1,134.1 204.3,132"/>
<polygon fill="#0848ff" points="175.3,173.9 187.3,177.2 199.1,169.5 198.1,175.1 201.8,178.9 201.8,194.6 199.8,201.7 196.4,203.8 195.2,207.1 192.7,207.9 192.3,211 183.8,209 183,206.9 175.1,203.2 173,198.2 173,191.6 175.1,187.8 175,185.2 173.6,183.9 173.2,175.6"/>
<polygon fill="#94b2ff" points="172.4,154.8 170.3,155.6 167,151.9 166.6,149 162.4,149 154.9,151.1 150,151.1 144.1,151.1 142.9,158.1 140.8,168.1 140.7,172 141.1,179.1 143.2,182.4 147.7,184.1 149,185.8 149.4,190.7 151.5,192 154.4,193.2 157.3,189.5 163.9,188.7 166.4,187.4 175,185.2 173.6,183.9 173.2,175.6 175.3,173.9 175.3,172.7 179.4,168.5 176.5,162.3 171.5,161.9 172.8,159.8"/>
<polygon fill="#c4d6ff" points="128.2,192 127.4,185.4 129,183.3 131.5,183.3 134.4,186.2 136.9,184.5 141.1,179.1 143.2,182.4 147.7,184.1 149,185.8 149.4,190.7 148.1,195.7 145.2,199.9 144.8,203.2 140.7,206.9 138.5,206.8 137.2,203.9 134,202 134.4,199.5 132.7,198.5 135,197.2 134.4,195.1 132.6,193.4 131.2,195 129,192.5"/>
<polygon fill="#c4d6ff" points="149.4,190.7 151.5,192 154.4,193.2 157.3,189.5 163.9,188.7 166.4,187.4 175,185.2 175.1,187.8 173,191.6 173,198.2 175.1,203.2 183,206.9 183.8,209 192.3,211 193.8,217.7 194.6,219 191.7,223.1 194.6,226.4 191.7,233.1 191.3,238.9 186.3,236.4 179.7,236.8 176.8,233.5 177.6,229.8 174.7,225.6 170.5,223.5 163.1,224.4 158.1,220.6 154.8,219 151,216.1 147.7,219.8 143.6,221 140.7,219 136.9,216.9 136.5,212.3 140.7,206.9 144.8,203.2 145.2,199.9 148.1,195.7"/>
<polygon fill="#c4d6ff" points="128.2,192 129,192.5 131.2,195 132.6,193.4 134.4,195.1 135,197.2 132.7,198.5 134.4,199.5 134,202 137.2,203.9 138.5,206.8 140.7,206.9 136.5,212.3 136.9,216.9 140.7,219 143.6,221 147.7,219.8 151,216.1 154.8,219 149.8,224.4 141.5,228.9 139.4,232.7 138.2,240.5 134.9,241 129,236.8 121.6,236.8 118.7,236.4 122.4,219.8 124.9,206.5"/>
<polygon fill="#94b2ff" points="118.7,236.4 121.6,236.8 129,236.8 134.9,241 138.2,240.5 136.5,244.7 134.4,245.9 134.3,251 135.4,253.3 135,255.7 130.6,257.5 128.1,260 120.6,260.4 119.8,262.9 116.1,263.3 112.7,262.4 115.8,249.7"/>
<polygon fill="#94b2ff" points="112.7,262.4 116.1,263.3 118.1,266.6 116.5,274.9 118.1,279 118.1,284.4 113.6,284.6 111.9,289.4 106.5,287.8 103.6,288.2 104,283.2"/>
<polygon fill="#94b2ff" points="116.1,263.3 119.8,262.9 120.6,260.4 128.1,260 130.6,257.5 135,255.7 133.9,259.1 131,261.6 127.7,264.1 128.9,268.3 131.4,269.9 131,276.6 132.7,280.7 133.5,284.9 131.8,285.7 127.7,285.7 125.6,287.3 120.6,286.1 118.1,284.4 118.1,279 116.5,274.9 118.1,266.6"/>
<polygon fill="#94b2ff" points="103.6,288.2 106.5,287.8 111.9,289.4 113.6,284.6 115.2,290.7 114.8,293.2 112.7,296.5 112.7,298.1 115.2,299.4 115.2,303.9 116.9,308.9 118.1,309.8 118,311.5 115.2,313.5 110.7,318 106.9,314.7 106.9,311.8 102.4,311.4 101.1,313.1 102,316 99.9,315.6 97.8,312.2 98.2,309.8 102,309.3 102.8,304.8 101.1,302.7 97.4,301.9"/>
<polygon fill="#94b2ff" points="113.6,284.6 118.1,284.4 120.6,286.1 125.6,287.3 127.7,285.7 131.8,285.7 131.8,291.5 133.9,294 133.9,297.3 136.4,297.7 136,304.8 133.1,305.6 126.4,306.8 123.5,308.9 123.1,311.8 118,311.5 118.1,309.8 116.9,308.9 115.2,303.9 115.2,299.4 112.7,298.1 112.7,296.5 114.8,293.2 115.2,290.7"/>
<polygon fill="#0848ff" points="118,311.5 123.1,311.8 123.5,308.9 126.4,306.8 133.1,305.6 136,304.8 131.4,307.5 131.4,309 135.6,309.5 138.5,306.4 141.4,306.4 147.2,311 151.7,312.2 152.6,309.3 154.6,308.1 154.2,303.1 156.3,302.3 156.7,306.4 161.3,308.9 161.7,318.9 159.6,320.5 158.8,324.3 156.7,324.3 153,321.8 146.3,321.4 145.1,324.7 140.5,327.6 132.7,331.7 131.4,333.8 129.8,336.3 125.6,335.5 119,330.5 118.5,324.7 119.4,320.5 116.5,318.9 115.2,313.5"/>
<polygon fill="#0848ff" points="97.4,301.9 101.1,302.7 102.8,304.8 102,309.3 98.2,309.8 97.8,312.2 99.9,315.6 102,316 101.1,313.1 102.4,311.4 106.9,311.8 106.9,314.7 110.7,318 115.2,313.5 116.5,318.9 119.4,320.5 118.5,324.7 119,330.5 125.6,335.5 129.8,336.3 126.7,340 126.7,351.5 119.2,361.8 113.9,358.2 108.1,354.9 106,352.4 103.5,355.3 99.4,354.9 97.7,349.5 94.8,352.4 91.9,350.7 89.8,355.3 86.1,355.3 84,352.8 82.8,355.3 73.6,355.7 79.4,350.3 85.7,347.4 86.1,344.9 78.2,337.8 81.5,331.6 86.5,325.8 89,320 95.7,307.3"/>
<polygon fill="#5284ff" points="136,304.8 131.4,307.5 131.4,309 135.6,309.5 138.5,306.4"/>
</g>
<g class="map" transform="translate(930,0)">
<polygon fill="#322c94" points="154.8,219 149.8,224.4 141.5,228.9 139.4,232.7 138.2,240.5 136.5,244.7 134.4,245.9 134.3,251 135.4,253.3 135,255.7 133.9,259.1 131,261.6 127.7,264.1 128.9,268.3 131.4,269.9 131,276.6 132.7,280.7 133.5,284.9 131.8,285.7 131.8,291.5 133.9,294 133.9,297.3 136.4,297.7 136,304.8 138.5,306.4 141.4,306.4 147.2,311 151.7,312.2 152.6,309.3 154.6,308.1 154.2,303.1 156.3,302.3 156.7,306.4 161.3,308.9 161.7,318.9 159.6,320.5 158.8,324.3 156.7,324.3 153,321.8 146.3,321.4 145.1,324.7 140.5,327.6 132.7,331.7 131.4,333.8 129.8,336.3 126.7,340 126.7,351.5 119.2,361.8 121.2,366.5 124.9,370.5 130.7,368.6 147.3,368.2 157.3,365.7 166.4,359 174.1,352.4 174.7,346.6 176.4,342 175.6,335.5 180.2,328 181,322.2 188.5,315.6 191.4,317.2 191.4,314.3 189.7,309.8 190.5,302.7 187.6,299 189.7,296.5 189.7,289.8 187.6,287.3 187.6,279.9 190.5,276.6 188.5,272.4 191,269.1 192.2,260.8 192.4,255 192.1,249.7 190.5,244.7 191.3,238.9 186.3,236.4 179.7,236.8 176.8,233.5 177.6,229.8 174.7,225.6 170.5,223.5 163.1,224.4 158.1,220.6"/>
<polygon fill="#c6c4ec" points="73.6,355.7 82.8,355.3 84,352.8 86.1,355.3 89.8,355.3 91.9,350.7 94.8,352.4 97.7,349.5 99.4,354.9 103.5,355.3 106,352.4 108.1,354.9 113.9,358.2 119.2,361.8 121.2,366.5 124.9,370.5 130.7,368.6 147.3,368.2 157.3,365.7 166.4,359 174.1,352.4 173.9,358.2 174.7,368.2 175.6,373.2 173.5,375.2 173.5,380.2 175.6,379 176.4,384.8 178.9,388.5 181,389.8 181.8,395.6 181.4,401.4 178.5,408.8 177.8,415 177.6,419.6 171.4,423.8 168.6,428 168.6,434.9 164.5,441.5 162,454 155.4,463.1 152.9,478 148.7,484.7 152,491.3 152,496.3 147.9,508.7 149.6,512.9 151.2,523.7 143.7,534.4 141.3,542.7 140.8,559 135.8,570 134.6,570.4 134.6,584.4 131.3,588.1 130.6,588.9 130.6,594.4 129.6,595.3 127.8,594.4 124.4,599.3 123.6,601.3 121.6,601.3 120.4,598.3 118.6,596.3 118.6,590.4 117.5,590.4 117.4,588.9 118.4,587.9 118.4,580.9 116.6,579.4 116.4,571.8 115.4,570.4 111.9,557 104.8,536.1 90.7,493 82.4,486.3 84,477.2 80.7,472.2 78.2,453.1 69.1,434.9 64.9,420 53.3,384.7 57.4,382.2 61.2,377.3 64.9,374.8 64.5,366.1"/>
<polygon fill="#c6c4ec" points="198.1,128.7 206.4,121.6 214.7,120.4 218.4,122.4 218,124.9 214.7,127.4 218.4,131.6 218.8,135.7 221.7,138.6 221.7,144 218.4,146.1 219.7,149 223,149.4 223.8,159 225.5,167.3 227.5,167.7 227.5,170.6 223,175.6 222.6,182.2 218,189.7 211.4,196.3 203.9,201.3 199.8,201.7 201.8,194.6 201.8,178.9 198.1,175.1 199.1,169.5 200.6,153.2 202.7,141.5 203.1,134.1 204.3,132 198.9,132"/>
<polygon fill="#a8a4e4" points="198.9,132 197.3,131.2 193.1,126.2 191.9,126.6 189.4,132.4 189.8,138.2 188.1,143.2 187.7,148.2 185.2,150.7 179,151.5 178.2,154 172.4,154.8 172.8,159.8 171.5,161.9 176.5,162.3 179.4,168.5 175.3,172.7 175.3,173.9 187.3,177.2 199.1,169.5 200.6,153.2 202.7,141.5 203.1,134.1 204.3,132"/>
<polygon fill="#c6c4ec" points="175.3,173.9 187.3,177.2 199.1,169.5 198.1,175.1 201.8,178.9 201.8,194.6 199.8,201.7 196.4,203.8 195.2,207.1 192.7,207.9 192.3,211 183.8,209 183,206.9 175.1,203.2 173,198.2 173,191.6 175.1,187.8 175,185.2 173.6,183.9 173.2,175.6"/>
<polygon fill="#c6c4ec" points="172.4,154.8 170.3,155.6 167,151.9 166.6,149 162.4,149 154.9,151.1 150,151.1 144.1,151.1 142.9,158.1 140.8,168.1 140.7,172 141.1,179.1 143.2,182.4 147.7,184.1 149,185.8 149.4,190.7 151.5,192 154.4,193.2 157.3,189.5 163.9,188.7 166.4,187.4 175,185.2 173.6,183.9 173.2,175.6 175.3,173.9 175.3,172.7 179.4,168.5 176.5,162.3 171.5,161.9 172.8,159.8"/>
<polygon fill="#a8a4e4" points="128.2,192 127.4,185.4 129,183.3 131.5,183.3 134.4,186.2 136.9,184.5 141.1,179.1 143.2,182.4 147.7,184.1 149,185.8 149.4,190.7 148.1,195.7 145.2,199.9 144.8,203.2 140.7,206.9 138.5,206.8 137.2,203.9 134,202 134.4,199.5 132.7,198.5 135,197.2 134.4,195.1 132.6,193.4 131.2,195 129,192.5"/>
<polygon fill="#c6c4ec" points="149.4,190.7 151.5,192 154.4,193.2 157.3,189.5 163.9,188.7 166.4,187.4 175,185.2 175.1,187.8 173,191.6 173,198.2 175.1,203.2 183,206.9 183.8,209 192.3,211 193.8,217.7 194.6,219 191.7,223.1 194.6,226.4 191.7,233.1 191.3,238.9 186.3,236.4 179.7,236.8 176.8,233.5 177.6,229.8 174.7,225.6 170.5,223.5 163.1,224.4 158.1,220.6 154.8,219 151,216.1 147.7,219.8 143.6,221 140.7,219 136.9,216.9 136.5,212.3 140.7,206.9 144.8,203.2 145.2,199.9 148.1,195.7"/>
<polygon fill="#c6c4ec" points="128.2,192 129,192.5 131.2,195 132.6,193.4 134.4,195.1 135,197.2 132.7,198.5 134.4,199.5 134,202 137.2,203.9 138.5,206.8 140.7,206.9 136.5,212.3 136.9,216.9 140.7,219 143.6,221 147.7,219.8 151,216.1 154.8,219 149.8,224.4 141.5,228.9 139.4,232.7 138.2,240.5 134.9,241 129,236.8 121.6,236.8 118.7,236.4 122.4,219.8 124.9,206.5"/>
<polygon fill="#c6c4ec" points="118.7,236.4 121.6,236.8 129,236.8 134.9,241 138.2,240.5 136.5,244.7 134.4,245.9 134.3,251 135.4,253.3 135,255.7 130.6,257.5 128.1,260 120.6,260.4 119.8,262.9 116.1,263.3 112.7,262.4 115.8,249.7"/>
<polygon fill="#847cd8" points="112.7,262.4 116.1,263.3 118.1,266.6 116.5,274.9 118.1,279 118.1,284.4 113.6,284.6 111.9,289.4 106.5,287.8 103.6,288.2 104,283.2"/>
<polygon fill="#a8a4e4" points="116.1,263.3 119.8,262.9 120.6,260.4 128.1,260 130.6,257.5 135,255.7 133.9,259.1 131,261.6 127.7,264.1 128.9,268.3 131.4,269.9 131,276.6 132.7,280.7 133.5,284.9 131.8,285.7 127.7,285.7 125.6,287.3 120.6,286.1 118.1,284.4 118.1,279 116.5,274.9 118.1,266.6"/>
<polygon fill="#c6c4ec" points="103.6,288.2 106.5,287.8 111.9,289.4 113.6,284.6 115.2,290.7 114.8,293.2 112.7,296.5 112.7,298.1 115.2,299.4 115.2,303.9 116.9,308.9 118.1,309.8 118,311.5 115.2,313.5 110.7,318 106.9,314.7 106.9,311.8 102.4,311.4 101.1,313.1 102,316 99.9,315.6 97.8,312.2 98.2,309.8 102,309.3 102.8,304.8 101.1,302.7 97.4,301.9"/>
<polygon fill="#c6c4ec" points="113.6,284.6 118.1,284.4 120.6,286.1 125.6,287.3 127.7,285.7 131.8,285.7 131.8,291.5 133.9,294 133.9,297.3 136.4,297.7 136,304.8 133.1,305.6 126.4,306.8 123.5,308.9 123.1,311.8 118,311.5 118.1,309.8 116.9,308.9 115.2,303.9 115.2,299.4 112.7,298.1 112.7,296.5 114.8,293.2 115.2,290.7"/>
<polygon fill="#322c94" points="118,311.5 123.1,311.8 123.5,308.9 126.4,306.8 133.1,305.6 136,304.8 131.4,307.5 131.4,309 135.6,309.5 138.5,306.4 141.4,306.4 147.2,311 151.7,312.2 152.6,309.3 154.6,308.1 154.2,303.1 156.3,302.3 156.7,306.4 161.3,308.9 161.7,318.9 159.6,320.5 158.8,324.3 156.7,324.3 153,321.8 146.3,321.4 145.1,324.7 140.5,327.6 132.7,331.7 131.4,333.8 129.8,336.3 125.6,335.5 119,330.5 118.5,324.7 119.4,320.5 116.5,318.9 115.2,313.5"/>
<polygon fill="#847cd8" points="97.4,301.9 101.1,302.7 102.8,304.8 102,309.3 98.2,309.8 97.8,312.2 99.9,315.6 102,316 101.1,313.1 102.4,311.4 106.9,311.8 106.9,314.7 110.7,318 115.2,313.5 116.5,318.9 119.4,320.5 118.5,324.7 119,330.5 125.6,335.5 129.8,336.3 126.7,340 126.7,351.5 119.2,361.8 113.9,358.2 108.1,354.9 106,352.4 103.5,355.3 99.4,354.9 97.7,349.5 94.8,352.4 91.9,350.7 89.8,355.3 86.1,355.3 84,352.8 82.8,355.3 73.6,355.7 79.4,350.3 85.7,347.4 86.1,344.9 78.2,337.8 81.5,331.6 86.5,325.8 89,320 95.7,307.3"/>
<polygon fill="#322c94" points="136,304.8 131.4,307.5 131.4,309 135.6,309.5 138.5,306.4"/>
</g>
<g class="map" transform="translate(0,508)">
<polygon fill="#f8d8ee" points="154.8,219 149.8,224.4 141.5,228.9 139.4,232.7 138.2,240.5 136.5,244.7 134.4,245.9 134.3,251 135.4,253.3 135,255.7 133.9,259.1 131,261.6 127.7,264.1 128.9,268.3 131.4,269.9 131,276.6 132.7,280.7 133.5,284.9 131.8,285.7 131.8,291.5 133.9,294 133.9,297.3 136.4,297.7 136,304.8 138.5,306.4 141.4,306.4 147.2,311 151.7,312.2 152.6,309.3 154.6,308.1 154.2,303.1 156.3,302.3 156.7,306.4 161.3,308.9 161.7,318.9 159.6,320.5 158.8,324.3 156.7,324.3 153,321.8 146.3,321.4 145.1,324.7 140.5,327.6 132.7,331.7 131.4,333.8 129.8,336.3 126.7,340 126.7,351.5 119.2,361.8 121.2,366.5 124.9,370.5 130.7,368.6 147.3,368.2 157.3,365.7 166.4,359 174.1,352.4 174.7,346.6 176.4,342 175.6,335.5 180.2,328 181,322.2 188.5,315.6 191.4,317.2 191.4,314.3 189.7,309.8 190.5,302.7 187.6,299 189.7,296.5 189.7,289.8 187.6,287.3 187.6,279.9 190.5,276.6 188.5,272.4 191,269.1 192.2,260.8 192.4,255 192.1,249.7 190.5,244.7 191.3,238.9 186.3,236.4 179.7,236.8 176.8,233.5 177.6,229.8 174.7,225.6 170.5,223.5 163.1,224.4 158.1,220.6"/>
<polygon fill="#e878c4" points="73.6,355.7 82.8,355.3 84,352.8 86.1,355.3 89.8,355.3 91.9,350.7 94.8,352.4 97.7,349.5 99.4,354.9 103.5,355.3 106,352.4 108.1,354.9 113.9,358.2 119.2,361.8 121.2,366.5 124.9,370.5 130.7,368.6 147.3,368.2 157.3,365.7 166.4,359 174.1,352.4 173.9,358.2 174.7,368.2 175.6,373.2 173.5,375.2 173.5,380.2 175.6,379 176.4,384.8 178.9,388.5 181,389.8 181.8,395.6 181.4,401.4 178.5,408.8 177.8,415 177.6,419.6 171.4,423.8 168.6,428 168.6,434.9 164.5,441.5 162,454 155.4,463.1 152.9,478 148.7,484.7 152,491.3 152,496.3 147.9,508.7 149.6,512.9 151.2,523.7 143.7,534.4 141.3,542.7 140.8,559 135.8,570 134.6,570.4 134.6,584.4 131.3,588.1 130.6,588.9 130.6,594.4 129.6,595.3 127.8,594.4 124.4,599.3 123.6,601.3 121.6,601.3 120.4,598.3 118.6,596.3 118.6,590.4 117.5,590.4 117.4,588.9 118.4,587.9 118.4,580.9 116.6,579.4 116.4,571.8 115.4,570.4 111.9,557 104.8,536.1 90.7,493 82.4,486.3 84,477.2 80.7,472.2 78.2,453.1 69.1,434.9 64.9,420 53.3,384.7 57.4,382.2 61.2,377.3 64.9,374.8 64.5,366.1"/>
<polygon fill="#dc30a8" points="198.1,128.7 206.4,121.6 214.7,120.4 218.4,122.4 218,124.9 214.7,127.4 218.4,131.6 218.8,135.7 221.7,138.6 221.7,144 218.4,146.1 219.7,149 223,149.4 223.8,159 225.5,167.3 227.5,167.7 227.5,170.6 223,175.6 222.6,182.2 218,189.7 211.4,196.3 203.9,201.3 199.8,201.7 201.8,194.6 201.8,178.9 198.1,175.1 199.1,169.5 200.6,153.2 202.7,141.5 203.1,134.1 204.3,132 198.9,132"/>
<polygon fill="#e878c4" points="198.9,132 197.3,131.2 193.1,126.2 191.9,126.6 189.4,132.4 189.8,138.2 188.1,143.2 187.7,148.2 185.2,150.7 179,151.5 178.2,154 172.4,154.8 172.8,159.8 171.5,161.9 176.5,162.3 179.4,168.5 175.3,172.7 175.3,173.9 187.3,177.2 199.1,169.5 200.6,153.2 202.7,141.5 203.1,134.1 204.3,132"/>
<polygon fill="#e878c4" points="175.3,173.9 187.3,177.2 199.1,169.5 198.1,175.1 201.8,178.9 201.8,194.6 199.8,201.7 196.4,203.8 195.2,207.1 192.7,207.9 192.3,211 183.8,209 183,206.9 175.1,203.2 173,198.2 173,191.6 175.1,187.8 175,185.2 173.6,183.9 173.2,175.6"/>
<polygon fill="#f0b0dc" points="172.4,154.8 170.3,155.6 167,151.9 166.6,149 162.4,149 154.9,151.1 150,151.1 144.1,151.1 142.9,158.1 140.8,168.1 140.7,172 141.1,179.1 143.2,182.4 147.7,184.1 149,185.8 149.4,190.7 151.5,192 154.4,193.2 157.3,189.5 163.9,188.7 166.4,187.4 175,185.2 173.6,183.9 173.2,175.6 175.3,173.9 175.3,172.7 179.4,168.5 176.5,162.3 171.5,161.9 172.8,159.8"/>
<polygon fill="#dc30a8" points="128.2,192 127.4,185.4 129,183.3 131.5,183.3 134.4,186.2 136.9,184.5 141.1,179.1 143.2,182.4 147.7,184.1 149,185.8 149.4,190.7 148.1,195.7 145.2,199.9 144.8,203.2 140.7,206.9 138.5,206.8 137.2,203.9 134,202 134.4,199.5 132.7,198.5 135,197.2 134.4,195.1 132.6,193.4 131.2,195 129,192.5"/>
<polygon fill="#f0b0dc" points="149.4,190.7 151.5,192 154.4,193.2 157.3,189.5 163.9,188.7 166.4,187.4 175,185.2 175.1,187.8 173,191.6 173,198.2 175.1,203.2 183,206.9 183.8,209 192.3,211 193.8,217.7 194.6,219 191.7,223.1 194.6,226.4 191.7,233.1 191.3,238.9 186.3,236.4 179.7,236.8 176.8,233.5 177.6,229.8 174.7,225.6 170.5,223.5 163.1,224.4 158.1,220.6 154.8,219 151,216.1 147.7,219.8 143.6,221 140.7,219 136.9,216.9 136.5,212.3 140.7,206.9 144.8,203.2 145.2,199.9 148.1,195.7"/>
<polygon fill="#f0b0dc" points="128.2,192 129,192.5 131.2,195 132.6,193.4 134.4,195.1 135,197.2 132.7,198.5 134.4,199.5 134,202 137.2,203.9 138.5,206.8 140.7,206.9 136.5,212.3 136.9,216.9 140.7,219 143.6,221 147.7,219.8 151,216.1 154.8,219 149.8,224.4 141.5,228.9 139.4,232.7 138.2,240.5 134.9,241 129,236.8 121.6,236.8 118.7,236.4 122.4,219.8 124.9,206.5"/>
<polygon fill="#e878c4" points="118.7,236.4 121.6,236.8 129,236.8 134.9,241 138.2,240.5 136.5,244.7 134.4,245.9 134.3,251 135.4,253.3 135,255.7 130.6,257.5 128.1,260 120.6,260.4 119.8,262.9 116.1,263.3 112.7,262.4 115.8,249.7"/>
<polygon fill="#e878c4" points="112.7,262.4 116.1,263.3 118.1,266.6 116.5,274.9 118.1,279 118.1,284.4 113.6,284.6 111.9,289.4 106.5,287.8 103.6,288.2 104,283.2"/>
<polygon fill="#e878c4" points="116.1,263.3 119.8,262.9 120.6,260.4 128.1,260 130.6,257.5 135,255.7 133.9,259.1 131,261.6 127.7,264.1 128.9,268.3 131.4,269.9 131,276.6 132.7,280.7 133.5,284.9 131.8,285.7 127.7,285.7 125.6,287.3 120.6,286.1 118.1,284.4 118.1,279 116.5,274.9 118.1,266.6"/>
<polygon fill="#dc30a8" points="103.6,288.2 106.5,287.8 111.9,289.4 113.6,284.6 115.2,290.7 114.8,293.2 112.7,296.5 112.7,298.1 115.2,299.4 115.2,303.9 116.9,308.9 118.1,309.8 118,311.5 115.2,313.5 110.7,318 106.9,314.7 106.9,311.8 102.4,311.4 101.1,313.1 102,316 99.9,315.6 97.8,312.2 98.2,309.8 102,309.3 102.8,304.8 101.1,302.7 97.4,301.9"/>
<polygon fill="#e878c4" points="113.6,284.6 118.1,284.4 120.6,286.1 125.6,287.3 127.7,285.7 131.8,285.7 131.8,291.5 133.9,294 133.9,297.3 136.4,297.7 136,304.8 133.1,305.6 126.4,306.8 123.5,308.9 123.1,311.8 118,311.5 118.1,309.8 116.9,308.9 115.2,303.9 115.2,299.4 112.7,298.1 112.7,296.5 114.8,293.2 115.2,290.7"/>
<polygon fill="#f8d8ee" points="118,311.5 123.1,311.8 123.5,308.9 126.4,306.8 133.1,305.6 136,304.8 131.4,307.5 131.4,309 135.6,309.5 138.5,306.4 141.4,306.4 147.2,311 151.7,312.2 152.6,309.3 154.6,308.1 154.2,303.1 156.3,302.3 156.7,306.4 161.3,308.9 161.7,318.9 159.6,320.5 158.8,324.3 156.7,324.3 153,321.8 146.3,321.4 145.1,324.7 140.5,327.6 132.7,331.7 131.4,333.8 129.8,336.3 125.6,335.5 119,330.5 118.5,324.7 119.4,320.5 116.5,318.9 115.2,313.5"/>
<polygon fill="#e878c4" points="97.4,301.9 101.1,302.7 102.8,304.8 102,309.3 98.2,309.8 97.8,312.2 99.9,315.6 102,316 101.1,313.1 102.4,311.4 106.9,311.8 106.9,314.7 110.7,318 115.2,313.5 116.5,318.9 119.4,320.5 118.5,324.7 119,330.5 125.6,335.5 129.8,336.3 126.7,340 126.7,351.5 119.2,361.8 113.9,358.2 108.1,354.9 106,352.4 103.5,355.3 99.4,354.9 97.7,349.5 94.8,352.4 91.9,350.7 89.8,355.3 86.1,355.3 84,352.8 82.8,355.3 73.6,355.7 79.4,350.3 85.7,347.4 86.1,344.9 78.2,337.8 81.5,331.6 86.5,325.8 89,320 95.7,307.3"/>
<polygon fill="#f8d8ee" points="136,304.8 131.4,307.5 131.4,309 135.6,309.5 138.5,306.4"/>
</g>
<g class="map" transform="translate(186,508)">
<polygon fill="#ccf2cc" points="154.8,219 149.8,224.4 141.5,228.9 139.4,232.7 138.2,240.5 136.5,244.7 134.4,245.9 134.3,251 135.4,253.3 135,255.7 133.9,259.1 131,261.6 127.7,264.1 128.9,268.3 131.4,269.9 131,276.6 132.7,280.7 133.5,284.9 131.8,285.7 131.8,291.5 133.9,294 133.9,297.3 136.4,297.7 136,304.8 138.5,306.4 141.4,306.4 147.2,311 151.7,312.2 152.6,309.3 154.6,308.1 154.2,303.1 156.3,302.3 156.7,306.4 161.3,308.9 161.7,318.9 159.6,320.5 158.8,324.3 156.7,324.3 153,321.8 146.3,321.4 145.1,324.7 140.5,327.6 132.7,331.7 131.4,333.8 129.8,336.3 126.7,340 126.7,351.5 119.2,361.8 121.2,366.5 124.9,370.5 130.7,368.6 147.3,368.2 157.3,365.7 166.4,359 174.1,352.4 174.7,346.6 176.4,342 175.6,335.5 180.2,328 181,322.2 188.5,315.6 191.4,317.2 191.4,314.3 189.7,309.8 190.5,302.7 187.6,299 189.7,296.5 189.7,289.8 187.6,287.3 187.6,279.9 190.5,276.6 188.5,272.4 191,269.1 192.2,260.8 192.4,255 192.1,249.7 190.5,244.7 191.3,238.9 186.3,236.4 179.7,236.8 176.8,233.5 177.6,229.8 174.7,225.6 170.5,223.5 163.1,224.4 158.1,220.6"/>
<polygon fill="#a8e8a8" points="73.6,355.7 82.8,355.3 84,352.8 86.1,355.3 89.8,355.3 91.9,350.7 94.8,352.4 97.7,349.5 99.4,354.9 103.5,355.3 106,352.4 108.1,354.9 113.9,358.2 119.2,361.8 121.2,366.5 124.9,370.5 130.7,368.6 147.3,368.2 157.3,365.7 166.4,359 174.1,352.4 173.9,358.2 174.7,368.2 175.6,373.2 173.5,375.2 173.5,380.2 175.6,379 176.4,384.8 178.9,388.5 181,389.8 181.8,395.6 181.4,401.4 178.5,408.8 177.8,415 177.6,419.6 171.4,423.8 168.6,428 168.6,434.9 164.5,441.5 162,454 155.4,463.1 152.9,478 148.7,484.7 152,491.3 152,496.3 147.9,508.7 149.6,512.9 151.2,523.7 143.7,534.4 141.3,542.7 140.8,559 135.8,570 134.6,570.4 134.6,584.4 131.3,588.1 130.6,588.9 130.6,594.4 129.6,595.3 127.8,594.4 124.4,599.3 123.6,601.3 121.6,601.3 120.4,598.3 118.6,596.3 118.6,590.4 117.5,590.4 117.4,588.9 118.4,587.9 118.4,580.9 116.6,579.4 116.4,571.8 115.4,570.4 111.9,557 104.8,536.1 90.7,493 82.4,486.3 84,477.2 80.7,472.2 78.2,453.1 69.1,434.9 64.9,420 53.3,384.7 57.4,382.2 61.2,377.3 64.9,374.8 64.5,366.1"/>
<polygon fill="#a8e8a8" points="198.1,128.7 206.4,121.6 214.7,120.4 218.4,122.4 218,124.9 214.7,127.4 218.4,131.6 218.8,135.7 221.7,138.6 221.7,144 218.4,146.1 219.7,149 223,149.4 223.8,159 225.5,167.3 227.5,167.7 227.5,170.6 223,175.6 222.6,182.2 218,189.7 211.4,196.3 203.9,201.3 199.8,201.7 201.8,194.6 201.8,178.9 198.1,175.1 199.1,169.5 200.6,153.2 202.7,141.5 203.1,134.1 204.3,132 198.9,132"/>
<polygon fill="#74dc74" points="198.9,132 197.3,131.2 193.1,126.2 191.9,126.6 189.4,132.4 189.8,138.2 188.1,143.2 187.7,148.2 185.2,150.7 179,151.5 178.2,154 172.4,154.8 172.8,159.8 171.5,161.9 176.5,162.3 179.4,168.5 175.3,172.7 175.3,173.9 187.3,177.2 199.1,169.5 200.6,153.2 202.7,141.5 203.1,134.1 204.3,132"/>
<polygon fill="#a8e8a8" points="175.3,173.9 187.3,177.2 199.1,169.5 198.1,175.1 201.8,178.9 201.8,194.6 199.8,201.7 196.4,203.8 195.2,207.1 192.7,207.9 192.3,211 183.8,209 183,206.9 175.1,203.2 173,198.2 173,191.6 175.1,187.8 175,185.2 173.6,183.9 173.2,175.6"/>
<polygon fill="#a8e8a8" points="172.4,154.8 170.3,155.6 167,151.9 166.6,149 162.4,149 154.9,151.1 150,151.1 144.1,151.1 142.9,158.1 140.8,168.1 140.7,172 141.1,179.1 143.2,182.4 147.7,184.1 149,185.8 149.4,190.7 151.5,192 154.4,193.2 157.3,189.5 163.9,188.7 166.4,187.4 175,185.2 173.6,183.9 173.2,175.6 175.3,173.9 175.3,172.7 179.4,168.5 176.5,162.3 171.5,161.9 172.8,159.8"/>
<polygon fill="#a8e8a8" points="128.2,192 127.4,185.4 129,183.3 131.5,183.3 134.4,186.2 136.9,184.5 141.1,179.1 143.2,182.4 147.7,184.1 149,185.8 149.4,190.7 148.1,195.7 145.2,199.9 144.8,203.2 140.7,206.9 138.5,206.8 137.2,203.9 134,202 134.4,199.5 132.7,198.5 135,197.2 134.4,195.1 132.6,193.4 131.2,195 129,192.5"/>
<polygon fill="#a8e8a8" points="149.4,190.7 151.5,192 154.4,193.2 157.3,189.5 163.9,188.7 166.4,187.4 175,185.2 175.1,187.8 173,191.6 173,198.2 175.1,203.2 183,206.9 183.8,209 192.3,211 193.8,217.7 194.6,219 191.7,223.1 194.6,226.4 191.7,233.1 191.3,238.9 186.3,236.4 179.7,236.8 176.8,233.5 177.6,229.8 174.7,225.6 170.5,223.5 163.1,224.4 158.1,220.6 154.8,219 151,216.1 147.7,219.8 143.6,221 140.7,219 136.9,216.9 136.5,212.3 140.7,206.9 144.8,203.2 145.2,199.9 148.1,195.7"/>
<polygon fill="#74dc74" points="128.2,192 129,192.5 131.2,195 132.6,193.4 134.4,195.1 135,197.2 132.7,198.5 134.4,199.5 134,202 137.2,203.9 138.5,206.8 140.7,206.9 136.5,212.3 136.9,216.9 140.7,219 143.6,221 147.7,219.8 151,216.1 154.8,219 149.8,224.4 141.5,228.9 139.4,232.7 138.2,240.5 134.9,241 129,236.8 121.6,236.8 118.7,236.4 122.4,219.8 124.9,206.5"/>
<polygon fill="#74dc74" points="118.7,236.4 121.6,236.8 129,236.8 134.9,241 138.2,240.5 136.5,244.7 134.4,245.9 134.3,251 135.4,253.3 135,255.7 130.6,257.5 128.1,260 120.6,260.4 119.8,262.9 116.1,263.3 112.7,262.4 115.8,249.7"/>
<polygon fill="#34b034" points="112.7,262.4 116.1,263.3 118.1,266.6 116.5,274.9 118.1,279 118.1,284.4 113.6,284.6 111.9,289.4 106.5,287.8 103.6,288.2 104,283.2"/>
<polygon fill="#74dc74" points="116.1,263.3 119.8,262.9 120.6,260.4 128.1,260 130.6,257.5 135,255.7 133.9,259.1 131,261.6 127.7,264.1 128.9,268.3 131.4,269.9 131,276.6 132.7,280.7 133.5,284.9 131.8,285.7 127.7,285.7 125.6,287.3 120.6,286.1 118.1,284.4 118.1,279 116.5,274.9 118.1,266.6"/>
<polygon fill="#a8e8a8" points="103.6,288.2 106.5,287.8 111.9,289.4 113.6,284.6 115.2,290.7 114.8,293.2 112.7,296.5 112.7,298.1 115.2,299.4 115.2,303.9 116.9,308.9 118.1,309.8 118,311.5 115.2,313.5 110.7,318 106.9,314.7 106.9,311.8 102.4,311.4 101.1,313.1 102,316 99.9,315.6 97.8,312.2 98.2,309.8 102,309.3 102.8,304.8 101.1,302.7 97.4,301.9"/>
<polygon fill="#a8e8a8" points="113.6,284.6 118.1,284.4 120.6,286.1 125.6,287.3 127.7,285.7 131.8,285.7 131.8,291.5 133.9,294 133.9,297.3 136.4,297.7 136,304.8 133.1,305.6 126.4,306.8 123.5,308.9 123.1,311.8 118,311.5 118.1,309.8 116.9,308.9 115.2,303.9 115.2,299.4 112.7,298.1 112.7,296.5 114.8,293.2 115.2,290.7"/>
<polygon fill="#74dc74" points="118,311.5 123.1,311.8 123.5,308.9 126.4,306.8 133.1,305.6 136,304.8 131.4,307.5 131.4,309 135.6,309.5 138.5,306.4 141.4,306.4 147.2,311 151.7,312.2 152.6,309.3 154.6,308.1 154.2,303.1 156.3,302.3 156.7,306.4 161.3,308.9 161.7,318.9 159.6,320.5 158.8,324.3 156.7,324.3 153,321.8 146.3,321.4 145.1,324.7 140.5,327.6 132.7,331.7 131.4,333.8 129.8,336.3 125.6,335.5 119,330.5 118.5,324.7 119.4,320.5 116.5,318.9 115.2,313.5"/>
<polygon fill="#ccf2cc" points="97.4,301.9 101.1,302.7 102.8,304.8 102,309.3 98.2,309.8 97.8,312.2 99.9,315.6 102,316 101.1,313.1 102.4,311.4 106.9,311.8 106.9,314.7 110.7,318 115.2,313.5 116.5,318.9 119.4,320.5 118.5,324.7 119,330.5 125.6,335.5 129.8,336.3 126.7,340 126.7,351.5 119.2,361.8 113.9,358.2 108.1,354.9 106,352.4 103.5,355.3 99.4,354.9 97.7,349.5 94.8,352.4 91.9,350.7 89.8,355.3 86.1,355.3 84,352.8 82.8,355.3 73.6,355.7 79.4,350.3 85.7,347.4 86.1,344.9 78.2,337.8 81.5,331.6 86.5,325.8 89,320 95.7,307.3"/>
<polygon fill="#ccf2cc" points="136,304.8 131.4,307.5 131.4,309 135.6,309.5 138.5,306.4"/>
</g>
<g class="map" transform="translate(372,508)">
<polygon fill="#c8ff84" points="154.8,219 149.8,224.4 141.5,228.9 139.4,232.7 138.2,240.5 136.5,244.7 134.4,245.9 134.3,251 135.4,253.3 135,255.7 133.9,259.1 131,261.6 127.7,264.1 128.9,268.3 131.4,269.9 131,276.6 132.7,280.7 133.5,284.9 131.8,285.7 131.8,291.5 133.9,294 133.9,297.3 136.4,297.7 136,304.8 138.5,306.4 141.4,306.4 147.2,311 151.7,312.2 152.6,309.3 154.6,308.1 154.2,303.1 156.3,302.3 156.7,306.4 161.3,308.9 161.7,318.9 159.6,320.5 158.8,324.3 156.7,324.3 153,321.8 146.3,321.4 145.1,324.7 140.5,327.6 132.7,331.7 131.4,333.8 129.8,336.3 126.7,340 126.7,351.5 119.2,361.8 121.2,366.5 124.9,370.5 130.7,368.6 147.3,368.2 157.3,365.7 166.4,359 174.1,352.4 174.7,346.6 176.4,342 175.6,335.5 180.2,328 181,322.2 188.5,315.6 191.4,317.2 191.4,314.3 189.7,309.8 190.5,302.7 187.6,299 189.7,296.5 189.7,289.8 187.6,287.3 187.6,279.9 190.5,276.6 188.5,272.4 191,269.1 192.2,260.8 192.4,255 192.1,249.7 190.5,244.7 191.3,238.9 186.3,236.4 179.7,236.8 176.8,233.5 177.6,229.8 174.7,225.6 170.5,223.5 163.1,224.4 158.1,220.6"/>
<polygon fill="#4cb80c" points="73.6,355.7 82.8,355.3 84,352.8 86.1,355.3 89.8,355.3 91.9,350.7 94.8,352.4 97.7,349.5 99.4,354.9 103.5,355.3 106,352.4 108.1,354.9 113.9,358.2 119.2,361.8 121.2,366.5 124.9,370.5 130.7,368.6 147.3,368.2 157.3,365.7 166.4,359 174.1,352.4 173.9,358.2 174.7,368.2 175.6,373.2 173.5,375.2 173.5,380.2 175.6,379 176.4,384.8 178.9,388.5 181,389.8 181.8,395.6 181.4,401.4 178.5,408.8 177.8,415 177.6,419.6 171.4,423.8 168.6,428 168.6,434.9 164.5,441.5 162,454 155.4,463.1 152.9,478 148.7,484.7 152,491.3 152,496.3 147.9,508.7 149.6,512.9 151.2,523.7 143.7,534.4 141.3,542.7 140.8,559 135.8,570 134.6,570.4 134.6,584.4 131.3,588.1 130.6,588.9 130.6,594.4 129.6,595.3 127.8,594.4 124.4,599.3 123.6,601.3 121.6,601.3 120.4,598.3 118.6,596.3 118.6,590.4 117.5,590.4 117.4,588.9 118.4,587.9 118.4,580.9 116.6,579.4 116.4,571.8 115.4,570.4 111.9,557 104.8,536.1 90.7,493 82.4,486.3 84,477.2 80.7,472.2 78.2,453.1 69.1,434.9 64.9,420 53.3,384.7 57.4,382.2 61.2,377.3 64.9,374.8 64.5,366.1"/>
<polygon fill="#c8ff84" points="198.1,128.7 206.4,121.6 214.7,120.4 218.4,122.4 218,124.9 214.7,127.4 218.4,131.6 218.8,135.7 221.7,138.6 221.7,144 218.4,146.1 219.7,149 223,149.4 223.8,159 225.5,167.3 227.5,167.7 227.5,170.6 223,175.6 222.6,182.2 218,189.7 211.4,196.3 203.9,201.3 199.8,201.7 201.8,194.6 201.8,178.9 198.1,175.1 199.1,169.5 200.6,153.2 202.7,141.5 203.1,134.1 204.3,132 198.9,132"/>
<polygon fill="#c8ff84" points="198.9,132 197.3,131.2 193.1,126.2 191.9,126.6 189.4,132.4 189.8,138.2 188.1,143.2 187.7,148.2 185.2,150.7 179,151.5 178.2,154 172.4,154.8 172.8,159.8 171.5,161.9 176.5,162.3 179.4,168.5 175.3,172.7 175.3,173.9 187.3,177.2 199.1,169.5 200.6,153.2 202.7,141.5 203.1,134.1 204.3,132"/>
<polygon fill="#a4ff30" points="175.3,173.9 187.3,177.2 199.1,169.5 198.1,175.1 201.8,178.9 201.8,194.6 199.8,201.7 196.4,203.8 195.2,207.1 192.7,207.9 192.3,211 183.8,209 183,206.9 175.1,203.2 173,198.2 173,191.6 175.1,187.8 175,185.2 173.6,183.9 173.2,175.6"/>
<polygon fill="#3c9c08" points="172.4,154.8 170.3,155.6 167,151.9 166.6,149 162.4,149 154.9,151.1 150,151.1 144.1,151.1 142.9,158.1 140.8,168.1 140.7,172 141.1,179.1 143.2,182.4 147.7,184.1 149,185.8 149.4,190.7 151.5,192 154.4,193.2 157.3,189.5 163.9,188.7 166.4,187.4 175,185.2 173.6,183.9 173.2,175.6 175.3,173.9 175.3,172.7 179.4,168.5 176.5,162.3 171.5,161.9 172.8,159.8"/>
<polygon fill="#c8ff84" points="128.2,192 127.4,185.4 129,183.3 131.5,183.3 134.4,186.2 136.9,184.5 141.1,179.1 143.2,182.4 147.7,184.1 149,185.8 149.4,190.7 148.1,195.7 145.2,199.9 144.8,203.2 140.7,206.9 138.5,206.8 137.2,203.9 134,202 134.4,199.5 132.7,198.5 135,197.2 134.4,195.1 132.6,193.4 131.2,195 129,192.5"/>
<polygon fill="#4cb80c" points="149.4,190.7 151.5,192 154.4,193.2 157.3,189.5 163.9,188.7 166.4,187.4 175,185.2 175.1,187.8 173,191.6 173,198.2 175.1,203.2 183,206.9 183.8,209 192.3,211 193.8,217.7 194.6,219 191.7,223.1 194.6,226.4 191.7,233.1 191.3,238.9 186.3,236.4 179.7,236.8 176.8,233.5 177.6,229.8 174.7,225.6 170.5,223.5 163.1,224.4 158.1,220.6 154.8,219 151,216.1 147.7,219.8 143.6,221 140.7,219 136.9,216.9 136.5,212.3 140.7,206.9 144.8,203.2 145.2,199.9 148.1,195.7"/>
<polygon fill="#4cb80c" points="128.2,192 129,192.5 131.2,195 132.6,193.4 134.4,195.1 135,197.2 132.7,198.5 134.4,199.5 134,202 137.2,203.9 138.5,206.8 140.7,206.9 136.5,212.3 136.9,216.9 140.7,219 143.6,221 147.7,219.8 151,216.1 154.8,219 149.8,224.4 141.5,228.9 139.4,232.7 138.2,240.5 134.9,241 129,236.8 121.6,236.8 118.7,236.4 122.4,219.8 124.9,206.5"/>
<polygon fill="#4cb80c" points="118.7,236.4 121.6,236.8 129,236.8 134.9,241 138.2,240.5 136.5,244.7 134.4,245.9 134.3,251 135.4,253.3 135,255.7 130.6,257.5 128.1,260 120.6,260.4 119.8,262.9 116.1,263.3 112.7,262.4 115.8,249.7"/>
<polygon fill="#c8ff84" points="112.7,262.4 116.1,263.3 118.1,266.6 116.5,274.9 118.1,279 118.1,284.4 113.6,284.6 111.9,289.4 106.5,287.8 103.6,288.2 104,283.2"/>
<polygon fill="#c8ff84" points="116.1,263.3 119.8,262.9 120.6,260.4 128.1,260 130.6,257.5 135,255.7 133.9,259.1 131,261.6 127.7,264.1 128.9,268.3 131.4,269.9 131,276.6 132.7,280.7 133.5,284.9 131.8,285.7 127.7,285.7 125.6,287.3 120.6,286.1 118.1,284.4 118.1,279 116.5,274.9 118.1,266.6"/>
<polygon fill="#c8ff84" points="103.6,288.2 106.5,287.8 111.9,289.4 113.6,284.6 115.2,290.7 114.8,293.2 112.7,296.5 112.7,298.1 115.2,299.4 115.2,303.9 116.9,308.9 118.1,309.8 118,311.5 115.2,313.5 110.7,318 106.9,314.7 106.9,311.8 102.4,311.4 101.1,313.1 102,316 99.9,315.6 97.8,312.2 98.2,309.8 102,309.3 102.8,304.8 101.1,302.7 97.4,301.9"/>
<polygon fill="#a4ff30" points="113.6,284.6 118.1,284.4 120.6,286.1 125.6,287.3 127.7,285.7 131.8,285.7 131.8,291.5 133.9,294 133.9,297.3 136.4,297.7 136,304.8 133.1,305.6 126.4,306.8 123.5,308.9 123.1,311.8 118,311.5 118.1,309.8 116.9,308.9 115.2,303.9 115.2,299.4 112.7,298.1 112.7,296.5 114.8,293.2 115.2,290.7"/>
<polygon fill="#c8ff84" points="118,311.5 123.1,311.8 123.5,308.9 126.4,306.8 133.1,305.6 136,304.8 131.4,307.5 131.4,309 135.6,309.5 138.5,306.4 141.4,306.4 147.2,311 151.7,312.2 152.6,309.3 154.6,308.1 154.2,303.1 156.3,302.3 156.7,306.4 161.3,308.9 161.7,318.9 159.6,320.5 158.8,324.3 156.7,324.3 153,321.8 146.3,321.4 145.1,324.7 140.5,327.6 132.7,331.7 131.4,333.8 129.8,336.3 125.6,335.5 119,330.5 118.5,324.7 119.4,320.5 116.5,318.9 115.2,313.5"/>
<polygon fill="#c8ff84" points="97.4,301.9 101.1,302.7 102.8,304.8 102,309.3 98.2,309.8 97.8,312.2 99.9,315.6 102,316 101.1,313.1 102.4,311.4 106.9,311.8 106.9,314.7 110.7,318 115.2,313.5 116.5,318.9 119.4,320.5 118.5,324.7 119,330.5 125.6,335.5 129.8,336.3 126.7,340 126.7,351.5 119.2,361.8 113.9,358.2 108.1,354.9 106,352.4 103.5,355.3 99.4,354.9 97.7,349.5 94.8,352.4 91.9,350.7 89.8,355.3 86.1,355.3 84,352.8 82.8,355.3 73.6,355.7 79.4,350.3 85.7,347.4 86.1,344.9 78.2,337.8 81.5,331.6 86.5,325.8 89,320 95.7,307.3"/>
<polygon fill="#c8ff84" points="136,304.8 131.4,307.5 131.4,309 135.6,309.5 138.5,306.4"/>
</g>
<g class="map" transform="translate(558,508)">
<polygon fill="#ffecea" points="154.8,219 149.8,224.4 141.5,228.9 139.4,232.7 138.2,240.5 136.5,244.7 134.4,245.9 134.3,251 135.4,253.3 135,255.7 133.9,259.1 131,261.6 127.7,264.1 128.9,268.3 131.4,269.9 131,276.6 132.7,280.7 133.5,284.9 131.8,285.7 131.8,291.5 133.9,294 133.9,297.3 136.4,297.7 136,304.8 138.5,306.4 141.4,306.4 147.2,311 151.7,312.2 152.6,309.3 154.6,308.1 154.2,303.1 156.3,302.3 156.7,306.4 161.3,308.9 161.7,318.9 159.6,320.5 158.8,324.3 156.7,324.3 153,321.8 146.3,321.4 145.1,324.7 140.5,327.6 132.7,331.7 131.4,333.8 129.8,336.3 126.7,340 126.7,351.5 119.2,361.8 121.2,366.5 124.9,370.5 130.7,368.6 147.3,368.2 157.3,365.7 166.4,359 174.1,352.4 174.7,346.6 176.4,342 175.6,335.5 180.2,328 181,322.2 188.5,315.6 191.4,317.2 191.4,314.3 189.7,309.8 190.5,302.7 187.6,299 189.7,296.5 189.7,289.8 187.6,287.3 187.6,279.9 190.5,276.6 188.5,272.4 191,269.1 192.2,260.8 192.4,255 192.1,249.7 190.5,244.7 191.3,238.9 186.3,236.4 179.7,236.8 176.8,233.5 177.6,229.8 174.7,225.6 170.5,223.5 163.1,224.4 158.1,220.6"/>
<polygon fill="#ffecea" points="73.6,355.7 82.8,355.3 84,352.8 86.1,355.3 89.8,355.3 91.9,350.7 94.8,352.4 97.7,349.5 99.4,354.9 103.5,355.3 106,352.4 108.1,354.9 113.9,358.2 119.2,361.8 121.2,366.5 124.9,370.5 130.7,368.6 147.3,368.2 157.3,365.7 166.4,359 174.1,352.4 173.9,358.2 174.7,368.2 175.6,373.2 173.5,375.2 173.5,380.2 175.6,379 176.4,384.8 178.9,388.5 181,389.8 181.8,395.6 181.4,401.4 178.5,408.8 177.8,415 177.6,419.6 171.4,423.8 168.6,428 168.6,434.9 164.5,441.5 162,454 155.4,463.1 152.9,478 148.7,484.7 152,491.3 152,496.3 147.9,508.7 149.6,512.9 151.2,523.7 143.7,534.4 141.3,542.7 140.8,559 135.8,570 134.6,570.4 134.6,584.4 131.3,588.1 130.6,588.9 130.6,594.4 129.6,595.3 127.8,594.4 124.4,599.3 123.6,601.3 121.6,601.3 120.4,598.3 118.6,596.3 118.6,590.4 117.5,590.4 117.4,588.9 118.4,587.9 118.4,580.9 116.6,579.4 116.4,571.8 115.4,570.4 111.9,557 104.8,536.1 90.7,493 82.4,486.3 84,477.2 80.7,472.2 78.2,453.1 69.1,434.9 64.9,420 53.3,384.7 57.4,382.2 61.2,377.3 64.9,374.8 64.5,366.1"/>
<polygon fill="#ffecea" points="198.1,128.7 206.4,121.6 214.7,120.4 218.4,122.4 218,124.9 214.7,127.4 218.4,131.6 218.8,135.7 221.7,138.6 221.7,144 218.4,146.1 219.7,149 223,149.4 223.8,159 225.5,167.3 227.5,167.7 227.5,170.6 223,175.6 222.6,182.2 218,189.7 211.4,196.3 203.9,201.3 199.8,201.7 201.8,194.6 201.8,178.9 198.1,175.1 199.1,169.5 200.6,153.2 202.7,141.5 203.1,134.1 204.3,132 198.9,132"/>
<polygon fill="#ffecea" points="198.9,132 197.3,131.2 193.1,126.2 191.9,126.6 189.4,132.4 189.8,138.2 188.1,143.2 187.7,148.2 185.2,150.7 179,151.5 178.2,154 172.4,154.8 172.8,159.8 171.5,161.9 176.5,162.3 179.4,168.5 175.3,172.7 175.3,173.9 187.3,177.2 199.1,169.5 200.6,153.2 202.7,141.5 203.1,134.1 204.3,132"/>
<polygon fill="#ffb0a8" points="175.3,173.9 187.3,177.2 199.1,169.5 198.1,175.1 201.8,178.9 201.8,194.6 199.8,201.7 196.4,203.8 195.2,207.1 192.7,207.9 192.3,211 183.8,209 183,206.9 175.1,203.2 173,198.2 173,191.6 175.1,187.8 175,185.2 173.6,183.9 173.2,175.6"/>
<polygon fill="#e40c04" points="172.4,154.8 170.3,155.6 167,151.9 166.6,149 162.4,149 154.9,151.1 150,151.1 144.1,151.1 142.9,158.1 140.8,168.1 140.7,172 141.1,179.1 143.2,182.4 147.7,184.1 149,185.8 149.4,190.7 151.5,192 154.4,193.2 157.3,189.5 163.9,188.7 166.4,187.4 175,185.2 173.6,183.9 173.2,175.6 175.3,173.9 175.3,172.7 179.4,168.5 176.5,162.3 171.5,161.9 172.8,159.8"/>
<polygon fill="#ffb0a8" points="128.2,192 127.4,185.4 129,183.3 131.5,183.3 134.4,186.2 136.9,184.5 141.1,179.1 143.2,182.4 147.7,184.1 149,185.8 149.4,190.7 148.1,195.7 145.2,199.9 144.8,203.2 140.7,206.9 138.5,206.8 137.2,203.9 134,202 134.4,199.5 132.7,198.5 135,197.2 134.4,195.1 132.6,193.4 131.2,195 129,192.5"/>
<polygon fill="#e40c04" points="149.4,190.7 151.5,192 154.4,193.2 157.3,189.5 163.9,188.7 166.4,187.4 175,185.2 175.1,187.8 173,191.6 173,198.2 175.1,203.2 183,206.9 183.8,209 192.3,211 193.8,217.7 194.6,219 191.7,223.1 194.6,226.4 191.7,233.1 191.3,238.9 186.3,236.4 179.7,236.8 176.8,233.5 177.6,229.8 174.7,225.6 170.5,223.5 163.1,224.4 158.1,220.6 154.8,219 151,216.1 147.7,219.8 143.6,221 140.7,219 136.9,216.9 136.5,212.3 140.7,206.9 144.8,203.2 145.2,199.9 148.1,195.7"/>
<polygon fill="#fc7874" points="128.2,192 129,192.5 131.2,195 132.6,193.4 134.4,195.1 135,197.2 132.7,198.5 134.4,199.5 134,202 137.2,203.9 138.5,206.8 140.7,206.9 136.5,212.3 136.9,216.9 140.7,219 143.6,221 147.7,219.8 151,216.1 154.8,219 149.8,224.4 141.5,228.9 139.4,232.7 138.2,240.5 134.9,241 129,236.8 121.6,236.8 118.7,236.4 122.4,219.8 124.9,206.5"/>
<polygon fill="#ffb0a8" points="118.7,236.4 121.6,236.8 129,236.8 134.9,241 138.2,240.5 136.5,244.7 134.4,245.9 134.3,251 135.4,253.3 135,255.7 130.6,257.5 128.1,260 120.6,260.4 119.8,262.9 116.1,263.3 112.7,262.4 115.8,249.7"/>
<polygon fill="#ffecea" points="112.7,262.4 116.1,263.3 118.1,266.6 116.5,274.9 118.1,279 118.1,284.4 113.6,284.6 111.9,289.4 106.5,287.8 103.6,288.2 104,283.2"/>
<polygon fill="#ffecea" points="116.1,263.3 119.8,262.9 120.6,260.4 128.1,260 130.6,257.5 135,255.7 133.9,259.1 131,261.6 127.7,264.1 128.9,268.3 131.4,269.9 131,276.6 132.7,280.7 133.5,284.9 131.8,285.7 127.7,285.7 125.6,287.3 120.6,286.1 118.1,284.4 118.1,279 116.5,274.9 118.1,266.6"/>
<polygon fill="#ffecea" points="103.6,288.2 106.5,287.8 111.9,289.4 113.6,284.6 115.2,290.7 114.8,293.2 112.7,296.5 112.7,298.1 115.2,299.4 115.2,303.9 116.9,308.9 118.1,309.8 118,311.5 115.2,313.5 110.7,318 106.9,314.7 106.9,311.8 102.4,311.4 101.1,313.1 102,316 99.9,315.6 97.8,312.2 98.2,309.8 102,309.3 102.8,304.8 101.1,302.7 97.4,301.9"/>
<polygon fill="#ffecea" points="113.6,284.6 118.1,284.4 120.6,286.1 125.6,287.3 127.7,285.7 131.8,285.7 131.8,291.5 133.9,294 133.9,297.3 136.4,297.7 136,304.8 133.1,305.6 126.4,306.8 123.5,308.9 123.1,311.8 118,311.5 118.1,309.8 116.9,308.9 115.2,303.9 115.2,299.4 112.7,298.1 112.7,296.5 114.8,293.2 115.2,290.7"/>
<polygon fill="#ffecea" points="118,311.5 123.1,311.8 123.5,308.9 126.4,306.8 133.1,305.6 136,304.8 131.4,307.5 131.4,309 135.6,309.5 138.5,306.4 141.4,306.4 147.2,311 151.7,312.2 152.6,309.3 154.6,308.1 154.2,303.1 156.3,302.3 156.7,306.4 161.3,308.9 161.7,318.9 159.6,320.5 158.8,324.3 156.7,324.3 153,321.8 146.3,321.4 145.1,324.7 140.5,327.6 132.7,331.7 131.4,333.8 129.8,336.3 125.6,335.5 119,330.5 118.5,324.7 119.4,320.5 116.5,318.9 115.2,313.5"/>
<polygon fill="#ffecea" points="97.4,301.9 101.1,302.7 102.8,304.8 102,309.3 98.2,309.8 97.8,312.2 99.9,315.6 102,316 101.1,313.1 102.4,311.4 106.9,311.8 106.9,314.7 110.7,318 115.2,313.5 116.5,318.9 119.4,320.5 118.5,324.7 119,330.5 125.6,335.5 129.8,336.3 126.7,340 126.7,351.5 119.2,361.8 113.9,358.2 108.1,354.9 106,352.4 103.5,355.3 99.4,354.9 97.7,349.5 94.8,352.4 91.9,350.7 89.8,355.3 86.1,355.3 84,352.8 82.8,355.3 73.6,355.7 79.4,350.3 85.7,347.4 86.1,344.9 78.2,337.8 81.5,331.6 86.5,325.8 89,320 95.7,307.3"/>
<polygon fill="#ffecea" points="136,304.8 131.4,307.5 131.4,309 135.6,309.5 138.5,306.4"/>
</g>
<g class="map" transform="translate(744,508)">
<polygon fill="#fcd8bc" points="154.8,219 149.8,224.4 141.5,228.9 139.4,232.7 138.2,240.5 136.5,244.7 134.4,245.9 134.3,251 135.4,253.3 135,255.7 133.9,259.1 131,261.6 127.7,264.1 128.9,268.3 131.4,269.9 131,276.6 132.7,280.7 133.5,284.9 131.8,285.7 131.8,291.5 133.9,294 133.9,297.3 136.4,297.7 136,304.8 138.5,306.4 141.4,306.4 147.2,311 151.7,312.2 152.6,309.3 154.6,308.1 154.2,303.1 156.3,302.3 156.7,306.4 161.3,308.9 161.7,318.9 159.6,320.5 158.8,324.3 156.7,324.3 153,321.8 146.3,321.4 145.1,324.7 140.5,327.6 132.7,331.7 131.4,333.8 129.8,336.3 126.7,340 126.7,351.5 119.2,361.8 121.2,366.5 124.9,370.5 130.7,368.6 147.3,368.2 157.3,365.7 166.4,359 174.1,352.4 174.7,346.6 176.4,342 175.6,335.5 180.2,328 181,322.2 188.5,315.6 191.4,317.2 191.4,314.3 189.7,309.8 190.5,302.7 187.6,299 189.7,296.5 189.7,289.8 187.6,287.3 187.6,279.9 190.5,276.6 188.5,272.4 191,269.1 192.2,260.8 192.4,255 192.1,249.7 190.5,244.7 191.3,238.9 186.3,236.4 179.7,236.8 176.8,233.5 177.6,229.8 174.7,225.6 170.5,223.5 163.1,224.4 158.1,220.6"/>
<polygon fill="#f4b074" points="73.6,355.7 82.8,355.3 84,352.8 86.1,355.3 89.8,355.3 91.9,350.7 94.8,352.4 97.7,349.5 99.4,354.9 103.5,355.3 106,352.4 108.1,354.9 113.9,358.2 119.2,361.8 121.2,366.5 124.9,370.5 130.7,368.6 147.3,368.2 157.3,365.7 166.4,359 174.1,352.4 173.9,358.2 174.7,368.2 175.6,373.2 173.5,375.2 173.5,380.2 175.6,379 176.4,384.8 178.9,388.5 181,389.8 181.8,395.6 181.4,401.4 178.5,408.8 177.8,415 177.6,419.6 171.4,423.8 168.6,428 168.6,434.9 164.5,441.5 162,454 155.4,463.1 152.9,478 148.7,484.7 152,491.3 152,496.3 147.9,508.7 149.6,512.9 151.2,523.7 143.7,534.4 141.3,542.7 140.8,559 135.8,570 134.6,570.4 134.6,584.4 131.3,588.1 130.6,588.9 130.6,594.4 129.6,595.3 127.8,594.4 124.4,599.3 123.6,601.3 121.6,601.3 120.4,598.3 118.6,596.3 118.6,590.4 117.5,590.4 117.4,588.9 118.4,587.9 118.4,580.9 116.6,579.4 116.4,571.8 115.4,570.4 111.9,557 104.8,536.1 90.7,493 82.4,486.3 84,477.2 80.7,472.2 78.2,453.1 69.1,434.9 64.9,420 53.3,384.7 57.4,382.2 61.2,377.3 64.9,374.8 64.5,366.1"/>
<polygon fill="#fcd8bc" points="198.1,128.7 206.4,121.6 214.7,120.4 218.4,122.4 218,124.9 214.7,127.4 218.4,131.6 218.8,135.7 221.7,138.6 221.7,144 218.4,146.1 219.7,149 223,149.4 223.8,159 225.5,167.3 227.5,167.7 227.5,170.6 223,175.6 222.6,182.2 218,189.7 211.4,196.3 203.9,201.3 199.8,201.7 201.8,194.6 201.8,178.9 198.1,175.1 199.1,169.5 200.6,153.2 202.7,141.5 203.1,134.1 204.3,132 198.9,132"/>
<polygon fill="#fcd8bc" points="198.9,132 197.3,131.2 193.1,126.2 191.9,126.6 189.4,132.4 189.8,138.2 188.1,143.2 187.7,148.2 185.2,150.7 179,151.5 178.2,154 172.4,154.8 172.8,159.8 171.5,161.9 176.5,162.3 179.4,168.5 175.3,172.7 175.3,173.9 187.3,177.2 199.1,169.5 200.6,153.2 202.7,141.5 203.1,134.1 204.3,132"/>
<polygon fill="#f4b074" points="175.3,173.9 187.3,177.2 199.1,169.5 198.1,175.1 201.8,178.9 201.8,194.6 199.8,201.7 196.4,203.8 195.2,207.1 192.7,207.9 192.3,211 183.8,209 183,206.9 175.1,203.2 173,198.2 173,191.6 175.1,187.8 175,185.2 173.6,183.9 173.2,175.6"/>
<polygon fill="#c45814" points="172.4,154.8 170.3,155.6 167,151.9 166.6,149 162.4,149 154.9,151.1 150,151.1 144.1,151.1 142.9,158.1 140.8,168.1 140.7,172 141.1,179.1 143.2,182.4 147.7,184.1 149,185.8 149.4,190.7 151.5,192 154.4,193.2 157.3,189.5 163.9,188.7 166.4,187.4 175,185.2 173.6,183.9 173.2,175.6 175.3,173.9 175.3,172.7 179.4,168.5 176.5,162.3 171.5,161.9 172.8,159.8"/>
<polygon fill="#fcd8bc" points="128.2,192 127.4,185.4 129,183.3 131.5,183.3 134.4,186.2 136.9,184.5 141.1,179.1 143.2,182.4 147.7,184.1 149,185.8 149.4,190.7 148.1,195.7 145.2,199.9 144.8,203.2 140.7,206.9 138.5,206.8 137.2,203.9 134,202 134.4,199.5 132.7,198.5 135,197.2 134.4,195.1 132.6,193.4 131.2,195 129,192.5"/>
<polygon fill="#c45814" points="149.4,190.7 151.5,192 154.4,193.2 157.3,189.5 163.9,188.7 166.4,187.4 175,185.2 175.1,187.8 173,191.6 173,198.2 175.1,203.2 183,206.9 183.8,209 192.3,211 193.8,217.7 194.6,219 191.7,223.1 194.6,226.4 191.7,233.1 191.3,238.9 186.3,236.4 179.7,236.8 176.8,233.5 177.6,229.8 174.7,225.6 170.5,223.5 163.1,224.4 158.1,220.6 154.8,219 151,216.1 147.7,219.8 143.6,221 140.7,219 136.9,216.9 136.5,212.3 140.7,206.9 144.8,203.2 145.2,199.9 148.1,195.7"/>
<polygon fill="#c45814" points="128.2,192 129,192.5 131.2,195 132.6,193.4 134.4,195.1 135,197.2 132.7,198.5 134.4,199.5 134,202 137.2,203.9 138.5,206.8 140.7,206.9 136.5,212.3 136.9,216.9 140.7,219 143.6,221 147.7,219.8 151,216.1 154.8,219 149.8,224.4 141.5,228.9 139.4,232.7 138.2,240.5 134.9,241 129,236.8 121.6,236.8 118.7,236.4 122.4,219.8 124.9,206.5"/>
<polygon fill="#f4b074" points="118.7,236.4 121.6,236.8 129,236.8 134.9,241 138.2,240.5 136.5,244.7 134.4,245.9 134.3,251 135.4,253.3 135,255.7 130.6,257.5 128.1,260 120.6,260.4 119.8,262.9 116.1,263.3 112.7,262.4 115.8,249.7"/>
<polygon fill="#fcd8bc" points="112.7,262.4 116.1,263.3 118.1,266.6 116.5,274.9 118.1,279 118.1,284.4 113.6,284.6 111.9,289.4 106.5,287.8 103.6,288.2 104,283.2"/>
<polygon fill="#fcd8bc" points="116.1,263.3 119.8,262.9 120.6,260.4 128.1,260 130.6,257.5 135,255.7 133.9,259.1 131,261.6 127.7,264.1 128.9,268.3 131.4,269.9 131,276.6 132.7,280.7 133.5,284.9 131.8,285.7 127.7,285.7 125.6,287.3 120.6,286.1 118.1,284.4 118.1,279 116.5,274.9 118.1,266.6"/>
<polygon fill="#fcd8bc" points="103.6,288.2 106.5,287.8 111.9,289.4 113.6,284.6 115.2,290.7 114.8,293.2 112.7,296.5 112.7,298.1 115.2,299.4 115.2,303.9 116.9,308.9 118.1,309.8 118,311.5 115.2,313.5 110.7,318 106.9,314.7 106.9,311.8 102.4,311.4 101.1,313.1 102,316 99.9,315.6 97.8,312.2 98.2,309.8 102,309.3 102.8,304.8 101.1,302.7 97.4,301.9"/>
<polygon fill="#fcd8bc" points="113.6,284.6 118.1,284.4 120.6,286.1 125.6,287.3 127.7,285.7 131.8,285.7 131.8,291.5 133.9,294 133.9,297.3 136.4,297.7 136,304.8 133.1,305.6 126.4,306.8 123.5,308.9 123.1,311.8 118,311.5 118.1,309.8 116.9,308.9 115.2,303.9 115.2,299.4 112.7,298.1 112.7,296.5 114.8,293.2 115.2,290.7"/>
<polygon fill="#fcd8bc" points="118,311.5 123.1,311.8 123.5,308.9 126.4,306.8 133.1,305.6 136,304.8 131.4,307.5 131.4,309 135.6,309.5 138.5,306.4 141.4,306.4 147.2,311 151.7,312.2 152.6,309.3 154.6,308.1 154.2,303.1 156.3,302.3 156.7,306.4 161.3,308.9 161.7,318.9 159.6,320.5 158.8,324.3 156.7,324.3 153,321.8 146.3,321.4 145.1,324.7 140.5,327.6 132.7,331.7 131.4,333.8 129.8,336.3 125.6,335.5 119,330.5 118.5,324.7 119.4,320.5 116.5,318.9 115.2,313.5"/>
<polygon fill="#fcd8bc" points="97.4,301.9 101.1,302.7 102.8,304.8 102,309.3 98.2,309.8 97.8,312.2 99.9,315.6 102,316 101.1,313.1 102.4,311.4 106.9,311.8 106.9,314.7 110.7,318 115.2,313.5 116.5,318.9 119.4,320.5 118.5,324.7 119,330.5 125.6,335.5 129.8,336.3 126.7,340 126.7,351.5 119.2,361.8 113.9,358.2 108.1,354.9 106,352.4 103.5,355.3 99.4,354.9 97.7,349.5 94.8,352.4 91.9,350.7 89.8,355.3 86.1,355.3 84,352.8 82.8,355.3 73.6,355.7 79.4,350.3 85.7,347.4 86.1,344.9 78.2,337.8 81.5,331.6 86.5,325.8 89,320 95.7,307.3"/>
<polygon fill="#fcd8bc" points="136,304.8 131.4,307.5 131.4,309 135.6,309.5 138.5,306.4"/>
</g>
<g class="map" transform="translate(930,508)">
<polygon fill="#e8d4f4" points="154.8,219 149.8,224.4 141.5,228.9 139.4,232.7 138.2,240.5 136.5,244.7 134.4,245.9 134.3,251 135.4,253.3 135,255.7 133.9,259.1 131,261.6 127.7,264.1 128.9,268.3 131.4,269.9 131,276.6 132.7,280.7 133.5,284.9 131.8,285.7 131.8,291.5 133.9,294 133.9,297.3 136.4,297.7 136,304.8 138.5,306.4 141.4,306.4 147.2,311 151.7,312.2 152.6,309.3 154.6,308.1 154.2,303.1 156.3,302.3 156.7,306.4 161.3,308.9 161.7,318.9 159.6,320.5 158.8,324.3 156.7,324.3 153,321.8 146.3,321.4 145.1,324.7 140.5,327.6 132.7,331.7 131.4,333.8 129.8,336.3 126.7,340 126.7,351.5 119.2,361.8 121.2,366.5 124.9,370.5 130.7,368.6 147.3,368.2 157.3,365.7 166.4,359 174.1,352.4 174.7,346.6 176.4,342 175.6,335.5 180.2,328 181,322.2 188.5,315.6 191.4,317.2 191.4,314.3 189.7,309.8 190.5,302.7 187.6,299 189.7,296.5 189.7,289.8 187.6,287.3 187.6,279.9 190.5,276.6 188.5,272.4 191,269.1 192.2,260.8 192.4,255 192.1,249.7 190.5,244.7 191.3,238.9 186.3,236.4 179.7,236.8 176.8,233.5 177.6,229.8 174.7,225.6 170.5,223.5 163.1,224.4 158.1,220.6"/>
<polygon fill="#e8d4f4" points="73.6,355.7 82.8,355.3 84,352.8 86.1,355.3 89.8,355.3 91.9,350.7 94.8,352.4 97.7,349.5 99.4,354.9 103.5,355.3 106,352.4 108.1,354.9 113.9,358.2 119.2,361.8 121.2,366.5 124.9,370.5 130.7,368.6 147.3,368.2 157.3,365.7 166.4,359 174.1,352.4 173.9,358.2 174.7,368.2 175.6,373.2 173.5,375.2 173.5,380.2 175.6,379 176.4,384.8 178.9,388.5 181,389.8 181.8,395.6 181.4,401.4 178.5,408.8 177.8,415 177.6,419.6 171.4,423.8 168.6,428 168.6,434.9 164.5,441.5 162,454 155.4,463.1 152.9,478 148.7,484.7 152,491.3 152,496.3 147.9,508.7 149.6,512.9 151.2,523.7 143.7,534.4 141.3,542.7 140.8,559 135.8,570 134.6,570.4 134.6,584.4 131.3,588.1 130.6,588.9 130.6,594.4 129.6,595.3 127.8,594.4 124.4,599.3 123.6,601.3 121.6,601.3 120.4,598.3 118.6,596.3 118.6,590.4 117.5,590.4 117.4,588.9 118.4,587.9 118.4,580.9 116.6,579.4 116.4,571.8 115.4,570.4 111.9,557 104.8,536.1 90.7,493 82.4,486.3 84,477.2 80.7,472.2 78.2,453.1 69.1,434.9 64.9,420 53.3,384.7 57.4,382.2 61.2,377.3 64.9,374.8 64.5,366.1"/>
<polygon fill="#e8d4f4" points="198.1,128.7 206.4,121.6 214.7,120.4 218.4,122.4 218,124.9 214.7,127.4 218.4,131.6 218.8,135.7 221.7,138.6 221.7,144 218.4,146.1 219.7,149 223,149.4 223.8,159 225.5,167.3 227.5,167.7 227.5,170.6 223,175.6 222.6,182.2 218,189.7 211.4,196.3 203.9,201.3 199.8,201.7 201.8,194.6 201.8,178.9 198.1,175.1 199.1,169.5 200.6,153.2 202.7,141.5 203.1,134.1 204.3,132 198.9,132"/>
<polygon fill="#d0a4e8" points="198.9,132 197.3,131.2 193.1,126.2 191.9,126.6 189.4,132.4 189.8,138.2 188.1,143.2 187.7,148.2 185.2,150.7 179,151.5 178.2,154 172.4,154.8 172.8,159.8 171.5,161.9 176.5,162.3 179.4,168.5 175.3,172.7 175.3,173.9 187.3,177.2 199.1,169.5 200.6,153.2 202.7,141.5 203.1,134.1 204.3,132"/>
<polygon fill="#d0a4e8" points="175.3,173.9 187.3,177.2 199.1,169.5 198.1,175.1 201.8,178.9 201.8,194.6 199.8,201.7 196.4,203.8 195.2,207.1 192.7,207.9 192.3,211 183.8,209 183,206.9 175.1,203.2 173,198.2 173,191.6 175.1,187.8 175,185.2 173.6,183.9 173.2,175.6"/>
<polygon fill="#d0a4e8" points="172.4,154.8 170.3,155.6 167,151.9 166.6,149 162.4,149 154.9,151.1 150,151.1 144.1,151.1 142.9,158.1 140.8,168.1 140.7,172 141.1,179.1 143.2,182.4 147.7,184.1 149,185.8 149.4,190.7 151.5,192 154.4,193.2 157.3,189.5 163.9,188.7 166.4,187.4 175,185.2 173.6,183.9 173.2,175.6 175.3,173.9 175.3,172.7 179.4,168.5 176.5,162.3 171.5,161.9 172.8,159.8"/>
<polygon fill="#d0a4e8" points="128.2,192 127.4,185.4 129,183.3 131.5,183.3 134.4,186.2 136.9,184.5 141.1,179.1 143.2,182.4 147.7,184.1 149,185.8 149.4,190.7 148.1,195.7 145.2,199.9 144.8,203.2 140.7,206.9 138.5,206.8 137.2,203.9 134,202 134.4,199.5 132.7,198.5 135,197.2 134.4,195.1 132.6,193.4 131.2,195 129,192.5"/>
<polygon fill="#e8d4f4" points="149.4,190.7 151.5,192 154.4,193.2 157.3,189.5 163.9,188.7 166.4,187.4 175,185.2 175.1,187.8 173,191.6 173,198.2 175.1,203.2 183,206.9 183.8,209 192.3,211 193.8,217.7 194.6,219 191.7,223.1 194.6,226.4 191.7,233.1 191.3,238.9 186.3,236.4 179.7,236.8 176.8,233.5 177.6,229.8 174.7,225.6 170.5,223.5 163.1,224.4 158.1,220.6 154.8,219 151,216.1 147.7,219.8 143.6,221 140.7,219 136.9,216.9 136.5,212.3 140.7,206.9 144.8,203.2 145.2,199.9 148.1,195.7"/>
<polygon fill="#e8d4f4" points="128.2,192 129,192.5 131.2,195 132.6,193.4 134.4,195.1 135,197.2 132.7,198.5 134.4,199.5 134,202 137.2,203.9 138.5,206.8 140.7,206.9 136.5,212.3 136.9,216.9 140.7,219 143.6,221 147.7,219.8 151,216.1 154.8,219 149.8,224.4 141.5,228.9 139.4,232.7 138.2,240.5 134.9,241 129,236.8 121.6,236.8 118.7,236.4 122.4,219.8 124.9,206.5"/>
<polygon fill="#e8d4f4" points="118.7,236.4 121.6,236.8 129,236.8 134.9,241 138.2,240.5 136.5,244.7 134.4,245.9 134.3,251 135.4,253.3 135,255.7 130.6,257.5 128.1,260 120.6,260.4 119.8,262.9 116.1,263.3 112.7,262.4 115.8,249.7"/>
<polygon fill="#e8d4f4" points="112.7,262.4 116.1,263.3 118.1,266.6 116.5,274.9 118.1,279 118.1,284.4 113.6,284.6 111.9,289.4 106.5,287.8 103.6,288.2 104,283.2"/>
<polygon fill="#e8d4f4" points="116.1,263.3 119.8,262.9 120.6,260.4 128.1,260 130.6,257.5 135,255.7 133.9,259.1 131,261.6 127.7,264.1 128.9,268.3 131.4,269.9 131,276.6 132.7,280.7 133.5,284.9 131.8,285.7 127.7,285.7 125.6,287.3 120.6,286.1 118.1,284.4 118.1,279 116.5,274.9 118.1,266.6"/>
<polygon fill="#e8d4f4" points="103.6,288.2 106.5,287.8 111.9,289.4 113.6,284.6 115.2,290.7 114.8,293.2 112.7,296.5 112.7,298.1 115.2,299.4 115.2,303.9 116.9,308.9 118.1,309.8 118,311.5 115.2,313.5 110.7,318 106.9,314.7 106.9,311.8 102.4,311.4 101.1,313.1 102,316 99.9,315.6 97.8,312.2 98.2,309.8 102,309.3 102.8,304.8 101.1,302.7 97.4,301.9"/>
<polygon fill="#e8d4f4" points="113.6,284.6 118.1,284.4 120.6,286.1 125.6,287.3 127.7,285.7 131.8,285.7 131.8,291.5 133.9,294 133.9,297.3 136.4,297.7 136,304.8 133.1,305.6 126.4,306.8 123.5,308.9 123.1,311.8 118,311.5 118.1,309.8 116.9,308.9 115.2,303.9 115.2,299.4 112.7,298.1 112.7,296.5 114.8,293.2 115.2,290.7"/>
<polygon fill="#e8d4f4" points="118,311.5 123.1,311.8 123.5,308.9 126.4,306.8 133.1,305.6 136,304.8 131.4,307.5 131.4,309 135.6,309.5 138.5,306.4 141.4,306.4 147.2,311 151.7,312.2 152.6,309.3 154.6,308.1 154.2,303.1 156.3,302.3 156.7,306.4 161.3,308.9 161.7,318.9 159.6,320.5 158.8,324.3 156.7,324.3 153,321.8 146.3,321.4 145.1,324.7 140.5,327.6 132.7,331.7 131.4,333.8 129.8,336.3 125.6,335.5 119,330.5 118.5,324.7 119.4,320.5 116.5,318.9 115.2,313.5"/>
<polygon fill="#e8d4f4" points="97.4,301.9 101.1,302.7 102.8,304.8 102,309.3 98.2,309.8 97.8,312.2 99.9,315.6 102,316 101.1,313.1 102.4,311.4 106.9,311.8 106.9,314.7 110.7,318 115.2,313.5 116.5,318.9 119.4,320.5 118.5,324.7 119,330.5 125.6,335.5 129.8,336.3 126.7,340 126.7,351.5 119.2,361.8 113.9,358.2 108.1,354.9 106,352.4 103.5,355.3 99.4,354.9 97.7,349.5 94.8,352.4 91.9,350.7 89.8,355.3 86.1,355.3 84,352.8 82.8,355.3 73.6,355.7 79.4,350.3 85.7,347.4 86.1,344.9 78.2,337.8 81.5,331.6 86.5,325.8 89,320 95.7,307.3"/>
<polygon fill="#e8d4f4" points="136,304.8 131.4,307.5 131.4,309 135.6,309.5 138.5,306.4"/>
</g>
<text x="516" y="41.7" class="ti" text-anchor="start" textLength="113" lengthAdjust="spacingAndGlyphs">Israel</text>
<text x="643.5" y="41.7" class="ti" text-anchor="start" textLength="82.5" lengthAdjust="spacingAndGlyphs">2013</text>
<text x="493.6" y="73.3" class="su" text-anchor="start" textLength="208.7" lengthAdjust="spacingAndGlyphs">Party vote by subdistrict</text>
<text x="707.2" y="73.3" class="suh" text-anchor="start" textLength="42.3" lengthAdjust="spacingAndGlyphs">(נפות)</text>
<text x="197.9" y="580" class="he" text-anchor="middle" textLength="97" lengthAdjust="spacingAndGlyphs">הליכוד ביתנו</text>
<text x="198.3" y="596.7" class="en" text-anchor="middle" textLength="97" lengthAdjust="spacingAndGlyphs">Likud-Beiteinu</text>
<text x="195.2" y="611.6" class="lg" text-anchor="middle" textLength="70.5" lengthAdjust="spacingAndGlyphs" xml:space="preserve"><tspan fill="#99d4ff" font-weight="normal">18</tspan> <tspan fill="#3d99ff">21</tspan> <tspan fill="#0058f0">23</tspan> <tspan fill="#0018cc">27</tspan> <tspan fill="#000f7a">34</tspan></text>
<text x="377.9" y="580" class="he" text-anchor="middle" textLength="61" lengthAdjust="spacingAndGlyphs">יש עתיד</text>
<text x="379.4" y="595.5" class="en" text-anchor="middle" textLength="66.7" lengthAdjust="spacingAndGlyphs">Yesh Atid</text>
<text x="376.8" y="611.6" class="lg" text-anchor="middle" textLength="65.5" lengthAdjust="spacingAndGlyphs" xml:space="preserve"><tspan fill="#dfdde3" font-weight="normal">7</tspan> <tspan fill="#b9b5c2" font-weight="normal">10</tspan> <tspan fill="#87809a" font-weight="normal">14</tspan> <tspan fill="#6b6a74">17</tspan> <tspan fill="#4b4a52">20</tspan></text>
<text x="568.3" y="578.6" class="he" text-anchor="middle" textLength="57" lengthAdjust="spacingAndGlyphs">העבודה</text>
<text x="570.2" y="599" class="en" text-anchor="middle" textLength="41" lengthAdjust="spacingAndGlyphs">Labor</text>
<text x="566.9" y="613.4" class="lg" text-anchor="middle" textLength="44.3" lengthAdjust="spacingAndGlyphs" xml:space="preserve"><tspan fill="#ffdcf0" font-weight="normal">4</tspan> <tspan fill="#ff8896" font-weight="normal">7</tspan> <tspan fill="#fc5a66" font-weight="normal">11</tspan> <tspan fill="#f00a12">14</tspan></text>
<text x="771.4" y="580.6" class="he" text-anchor="middle" textLength="93.2" lengthAdjust="spacingAndGlyphs">הבית היהודי</text>
<text x="773.9" y="599" class="en" text-anchor="middle" textLength="88.2" lengthAdjust="spacingAndGlyphs">Jewish Home</text>
<text x="772" y="615.4" class="lg" text-anchor="middle" textLength="44.7" lengthAdjust="spacingAndGlyphs" xml:space="preserve"><tspan fill="#ffeebb" font-weight="normal">4</tspan> <tspan fill="#fdc070" font-weight="normal">6</tspan> <tspan fill="#ff8200" font-weight="normal">10</tspan> <tspan fill="#883c08">24</tspan></text>
<text x="930.5" y="579.2" class="he" text-anchor="middle" textLength="32.6" lengthAdjust="spacingAndGlyphs">ש״ס</text>
<text x="930.2" y="597.5" class="en" text-anchor="middle" textLength="32" lengthAdjust="spacingAndGlyphs">Shas</text>
<text x="932.3" y="611.8" class="lg" text-anchor="middle" textLength="44.5" lengthAdjust="spacingAndGlyphs" xml:space="preserve"><tspan fill="#c4d6ff" font-weight="normal">3</tspan> <tspan fill="#94b2ff" font-weight="normal">7</tspan> <tspan fill="#5284ff" font-weight="normal">10</tspan> <tspan fill="#0848ff">15</tspan></text>
<text x="1171.9" y="576" class="he" text-anchor="middle" textLength="183.2" lengthAdjust="spacingAndGlyphs">יהדות התורה המאוחדת</text>
<text x="1168.5" y="596" class="en" text-anchor="middle" textLength="153" lengthAdjust="spacingAndGlyphs">United Torah Judaism</text>
<text x="1166.8" y="613.4" class="lg" text-anchor="middle" textLength="38.3" lengthAdjust="spacingAndGlyphs" xml:space="preserve"><tspan fill="#c6c4ec" font-weight="normal">0</tspan> <tspan fill="#a8a4e4" font-weight="normal">3</tspan> <tspan fill="#847cd8" font-weight="normal">7</tspan> <tspan fill="#322c94">17</tspan></text>
<text x="183.5" y="1092.3" class="he" text-anchor="middle" textLength="56" lengthAdjust="spacingAndGlyphs">התנועה</text>
<text x="184.4" y="1111" class="en" text-anchor="middle" textLength="59.2" lengthAdjust="spacingAndGlyphs">Hatnuah</text>
<text x="185.9" y="1128.4" class="lg" text-anchor="middle" textLength="32.2" lengthAdjust="spacingAndGlyphs" xml:space="preserve"><tspan fill="#f8d8ee" font-weight="normal">1</tspan> <tspan fill="#f0b0dc" font-weight="normal">3</tspan> <tspan fill="#e878c4" font-weight="normal">5</tspan> <tspan fill="#dc30a8">7</tspan></text>
<text x="376" y="1091.8" class="he" text-anchor="middle" textLength="30.8" lengthAdjust="spacingAndGlyphs">מרצ</text>
<text x="376.6" y="1111.7" class="en" text-anchor="middle" textLength="46" lengthAdjust="spacingAndGlyphs">Meretz</text>
<text x="375.9" y="1127.6" class="lg" text-anchor="middle" textLength="32.2" lengthAdjust="spacingAndGlyphs" xml:space="preserve"><tspan fill="#ccf2cc" font-weight="normal">0</tspan> <tspan fill="#a8e8a8" font-weight="normal">3</tspan> <tspan fill="#74dc74" font-weight="normal">5</tspan> <tspan fill="#34b034">8</tspan></text>
<text x="597.6" y="1129" class="en" text-anchor="middle" textLength="156.5" lengthAdjust="spacingAndGlyphs">United Arab List-Ta′al</text>
<text x="594.2" y="1145.7" class="lg" text-anchor="middle" textLength="37.7" lengthAdjust="spacingAndGlyphs" xml:space="preserve"><tspan fill="#c8ff84" font-weight="normal">0</tspan> <tspan fill="#a4ff30" font-weight="normal">2</tspan> <tspan fill="#4cb80c" font-weight="normal">9</tspan> <tspan fill="#3c9c08">16</tspan></text>
<text x="766.5" y="1077.9" class="he" text-anchor="middle" textLength="43.5" lengthAdjust="spacingAndGlyphs">חד״ש</text>
<text x="765.2" y="1139" class="en" text-anchor="middle" textLength="51" lengthAdjust="spacingAndGlyphs">Hadash</text>
<text x="763.4" y="1151.9" class="lg" text-anchor="middle" textLength="38.7" lengthAdjust="spacingAndGlyphs" xml:space="preserve"><tspan fill="#ffecea" font-weight="normal">0</tspan> <tspan fill="#ffb0a8" font-weight="normal">3</tspan> <tspan fill="#fc7874" font-weight="normal">8</tspan> <tspan fill="#e40c04">15</tspan></text>
<text x="950.8" y="1109.2" class="en" text-anchor="middle" textLength="39.8" lengthAdjust="spacingAndGlyphs">Balad</text>
<text x="950" y="1127.5" class="lg" text-anchor="middle" textLength="38.1" lengthAdjust="spacingAndGlyphs" xml:space="preserve"><tspan fill="#fcd8bc" font-weight="normal">0</tspan> <tspan fill="#f4b074" font-weight="normal">3</tspan> <tspan fill="#e07830" font-weight="normal">5</tspan> <tspan fill="#c45814">10</tspan></text>
<text x="1123.5" y="1091.5" class="he" text-anchor="middle" textLength="49.7" lengthAdjust="spacingAndGlyphs">קדימה</text>
<text x="1123.2" y="1114.6" class="en" text-anchor="middle" textLength="52.7" lengthAdjust="spacingAndGlyphs">Kadima</text>
<text x="1123" y="1129" class="lg" text-anchor="middle" textLength="15" lengthAdjust="spacingAndGlyphs" xml:space="preserve"><tspan fill="#e8d4f4" font-weight="normal">0</tspan> <tspan fill="#d0a4e8" font-weight="normal">3</tspan></text>
<text x="590" y="1081" class="ar" text-anchor="middle" textLength="95.7" lengthAdjust="spacingAndGlyphs">القائمة العربية الموحدة</text>
<text x="588.8" y="1102.5" class="ar" text-anchor="middle" textLength="93.2" lengthAdjust="spacingAndGlyphs">الحركة العربية للتغيي</text>
<text x="770.8" y="1098.5" class="ar" text-anchor="middle" textLength="79.6" lengthAdjust="spacingAndGlyphs">الجبهة الديمقراطية</text>
<text x="766.1" y="1112.8" class="ar" text-anchor="middle" textLength="75" lengthAdjust="spacingAndGlyphs">للسلام والمساواة</text>
<text x="953.3" y="1087.5" class="arb" text-anchor="middle" textLength="104.4" lengthAdjust="spacingAndGlyphs">التجمع الوطني الديمقراطي</text>
<text x="303.7" y="1172.7" class="ft" text-anchor="start" textLength="630.3" lengthAdjust="spacingAndGlyphs">Note: all of the above maps show the West Bank, East Jerusalem and the Golan Heights as part of Israel as Israel citizens</text>
<text x="303.7" y="1184.5" class="ft" text-anchor="start" textLength="617.6" lengthAdjust="spacingAndGlyphs">living in these territories have the right to vote in Israeli elections. Israel’s occupation of these territories is not recognised</text>
<text x="303.7" y="1196.2" class="ft" text-anchor="start" textLength="597.3" lengthAdjust="spacingAndGlyphs">by other countries. These maps simply exist to show election results, not to make a geopolitical statement of any kind.</text>
<text x="1270" y="1202.7" class="ae" text-anchor="middle" textLength="32.3" lengthAdjust="spacingAndGlyphs">AE</text>
</svg>
</body></html>
